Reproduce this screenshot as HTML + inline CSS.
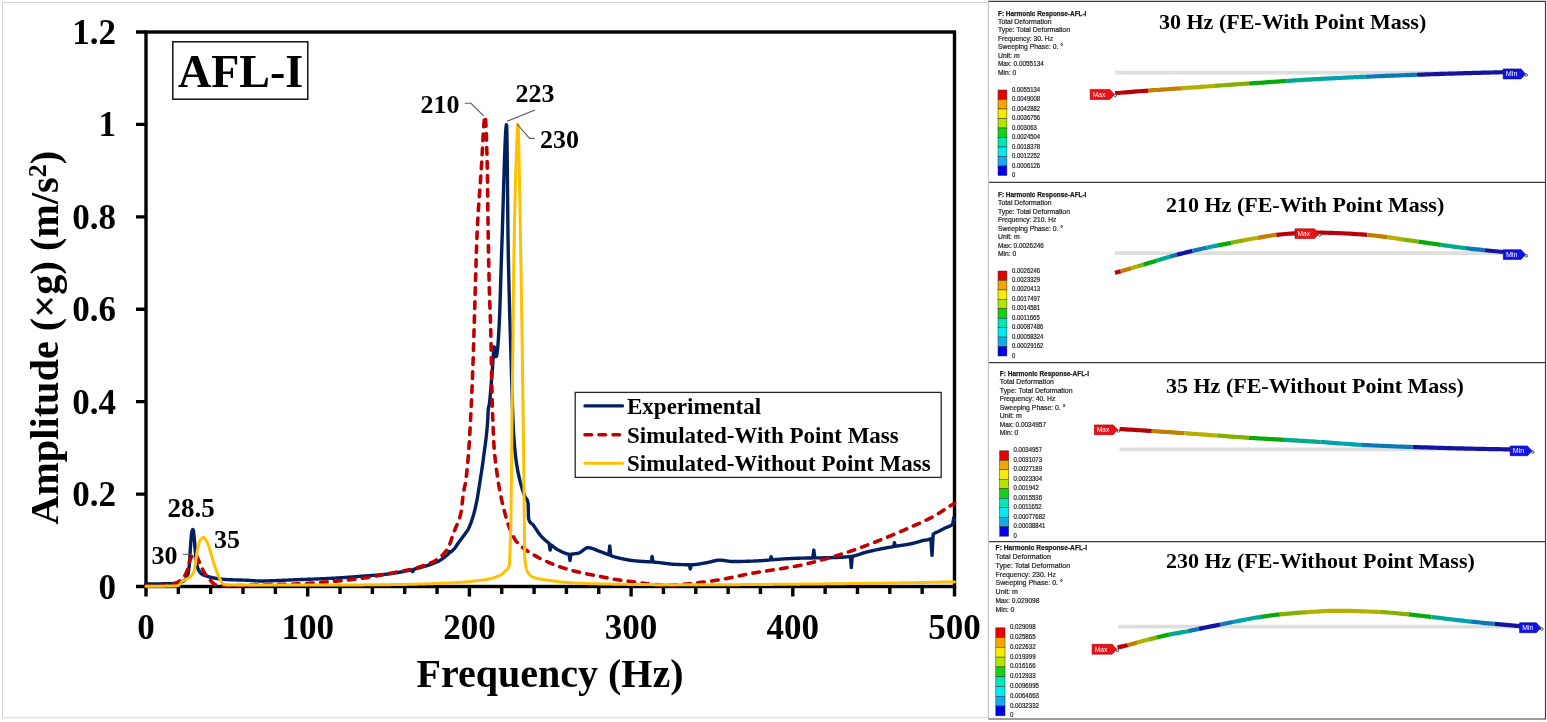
<!DOCTYPE html>
<html><head><meta charset="utf-8"><title>AFL-I harmonic response</title>
<style>
html,body{margin:0;padding:0;background:#fff;}
body{width:1547px;height:722px;overflow:hidden;}
svg{display:block;}
.b{font-family:'Liberation Serif', serif;font-weight:bold;fill:#000;}
.tk{font-family:'Liberation Serif', serif;font-weight:bold;font-size:35px;fill:#000;}
.sm{font-family:'Liberation Sans', sans-serif;font-size:7px;fill:#262626;stroke:#262626;stroke-width:0.22px;}
.sh{font-family:'Liberation Sans', sans-serif;font-size:7px;font-weight:bold;fill:#1a1a1a;stroke:#1a1a1a;stroke-width:0.25px;}
.tg{font-family:'Liberation Sans', sans-serif;font-size:6.6px;fill:#fff;}
</style></head>
<body><svg width="1547" height="722" viewBox="0 0 1547 722">
<rect width="1547" height="722" fill="#fff"/>
<rect x="2.5" y="2.5" width="985.8" height="715.3" fill="none" stroke="#d2d2d2" stroke-width="1"/>
<path d="M988.5 1.5 V719" stroke="#c4c4c4" stroke-width="1"/>
<path d="M988.5 1.4 H1545.5 V719 H988.5" fill="none" stroke="#3c3c3c" stroke-width="1.2"/>
<path d="M989 182.4 H1545.5" stroke="#3c3c3c" stroke-width="1.3"/>
<path d="M989 362.6 H1545.5" stroke="#3c3c3c" stroke-width="1.3"/>
<path d="M989 541.6 H1545.5" stroke="#3c3c3c" stroke-width="1.3"/>
<text x="116" y="598.5" text-anchor="end" class="tk">0</text>
<text x="116" y="506.08" text-anchor="end" class="tk">0.2</text>
<text x="116" y="413.67" text-anchor="end" class="tk">0.4</text>
<text x="116" y="321.25" text-anchor="end" class="tk">0.6</text>
<text x="116" y="228.83" text-anchor="end" class="tk">0.8</text>
<text x="116" y="136.42" text-anchor="end" class="tk">1</text>
<text x="116" y="44" text-anchor="end" class="tk">1.2</text>
<text x="146" y="638.5" text-anchor="middle" class="tk">0</text>
<text x="307.7" y="638.5" text-anchor="middle" class="tk">100</text>
<text x="469.4" y="638.5" text-anchor="middle" class="tk">200</text>
<text x="631.1" y="638.5" text-anchor="middle" class="tk">300</text>
<text x="792.8" y="638.5" text-anchor="middle" class="tk">400</text>
<text x="954.5" y="638.5" text-anchor="middle" class="tk">500</text>
<path d="M136 586.5 H146 M136 494.08 H146 M136 401.67 H146 M136 309.25 H146 M136 216.83 H146 M136 124.42 H146 M136 32 H146 M146 586.5 V596.5 M178.34 586.5 V594 M210.68 586.5 V594 M243.02 586.5 V594 M275.36 586.5 V594 M307.7 586.5 V596.5 M340.04 586.5 V594 M372.38 586.5 V594 M404.72 586.5 V594 M437.06 586.5 V594 M469.4 586.5 V596.5 M501.74 586.5 V594 M534.08 586.5 V594 M566.42 586.5 V594 M598.76 586.5 V594 M631.1 586.5 V596.5 M663.44 586.5 V594 M695.78 586.5 V594 M728.12 586.5 V594 M760.46 586.5 V594 M792.8 586.5 V596.5 M825.14 586.5 V594 M857.48 586.5 V594 M889.82 586.5 V594 M922.16 586.5 V594 M954.5 586.5 V596.5 " stroke="#000" stroke-width="3.4" fill="none"/>
<rect x="146.0" y="32.0" width="808.5" height="554.5" fill="none" stroke="#000" stroke-width="3.4"/>
<text x="550" y="687.3" text-anchor="middle" font-size="40" class="b">Frequency (Hz)</text>
<text transform="translate(58 524.8) rotate(-90)" font-size="40.3" class="b">Amplitude (×g) (m/s<tspan dy="-12" font-size="26">2</tspan><tspan dy="12">)</tspan></text>
<rect x="172.8" y="41.8" width="135" height="57.4" fill="#fff" stroke="#000" stroke-width="1.4"/>
<text x="178" y="87.3" font-size="46" class="b">AFL-I</text>
<path d="M146 583.96 L146.65 583.96 L147.29 583.96 L147.94 583.96 L148.59 583.96 L149.23 583.96 L149.88 583.96 L150.53 583.96 L151.17 583.96 L151.82 583.96 L152.47 583.96 L153.11 583.96 L153.76 583.96 L154.41 583.96 L155.06 583.96 L155.7 583.95 L156.35 583.94 L157 583.93 L157.64 583.92 L158.29 583.91 L158.94 583.89 L159.58 583.88 L160.23 583.86 L160.88 583.85 L161.52 583.83 L162.17 583.82 L162.82 583.81 L163.46 583.8 L164.11 583.78 L164.76 583.77 L165.4 583.76 L166.05 583.75 L166.7 583.73 L167.34 583.72 L167.99 583.7 L168.64 583.69 L169.28 583.67 L169.93 583.65 L170.58 583.62 L171.23 583.59 L171.87 583.56 L172.52 583.52 L173.17 583.47 L173.81 583.42 L174.46 583.37 L175.11 583.3 L175.75 583.23 L176.4 583.16 L177.05 583.08 L177.69 582.99 L178.34 582.88 L178.99 582.75 L179.47 582.63 L179.96 582.5 L180.44 582.36 L180.93 582.19 L181.41 582.02 L181.9 581.82 L182.38 581.61 L182.87 581.38 L183.35 581.13 L183.84 580.86 L184.32 580.52 L184.65 580.24 L184.97 579.92 L185.29 579.55 L185.62 579.14 L185.94 578.67 L186.26 578.15 L186.59 577.58 L186.91 576.94 L187.23 576.24 L187.56 575.44 L187.72 574.91 L187.88 574.28 L188.04 573.56 L188.2 572.75 L188.37 571.85 L188.53 570.87 L188.69 569.8 L188.85 568.66 L189.01 567.45 L189.17 566.17 L189.34 564.57 L189.5 562.5 L189.66 560.09 L189.82 557.45 L189.98 554.72 L190.14 552.02 L190.31 549.48 L190.47 547.22 L190.63 545.07 L190.79 542.83 L190.95 540.58 L191.11 538.42 L191.28 536.43 L191.44 534.71 L191.6 533.35 L191.76 532.44 L191.92 531.79 L192.08 531.18 L192.25 530.64 L192.41 530.16 L192.73 529.46 L193.38 530.15 L193.54 531.22 L193.7 532.58 L193.86 534.17 L194.02 535.9 L194.19 537.7 L194.35 539.5 L194.51 541.22 L194.67 543.08 L194.83 545.25 L195 547.56 L195.16 549.85 L195.32 551.95 L195.48 553.69 L195.64 555.18 L195.8 556.63 L195.97 558.02 L196.13 559.35 L196.29 560.61 L196.45 561.79 L196.61 562.87 L196.77 563.87 L196.94 564.75 L197.1 565.52 L197.26 566.17 L197.42 566.74 L197.58 567.27 L197.74 567.78 L197.91 568.27 L198.07 568.72 L198.39 569.56 L198.71 570.29 L199.04 570.93 L199.36 571.49 L199.68 571.97 L200.01 572.37 L200.33 572.73 L200.65 573.06 L200.98 573.36 L201.46 573.76 L201.95 574.1 L202.43 574.39 L202.92 574.66 L203.4 574.89 L203.89 575.11 L204.37 575.3 L204.86 575.48 L205.34 575.65 L205.83 575.82 L206.31 575.98 L206.8 576.15 L207.28 576.31 L207.77 576.46 L208.25 576.61 L208.74 576.75 L209.22 576.89 L209.71 577.02 L210.19 577.14 L210.68 577.26 L211.33 577.41 L211.97 577.55 L212.62 577.69 L213.27 577.83 L213.91 577.97 L214.56 578.1 L215.21 578.23 L215.85 578.35 L216.5 578.47 L217.15 578.58 L217.79 578.69 L218.44 578.79 L219.09 578.88 L219.74 578.96 L220.38 579.04 L221.03 579.11 L221.68 579.17 L222.32 579.23 L222.97 579.28 L223.62 579.33 L224.26 579.38 L224.91 579.43 L225.56 579.47 L226.2 579.51 L226.85 579.55 L227.5 579.59 L228.14 579.62 L228.79 579.66 L229.44 579.69 L230.08 579.71 L230.73 579.74 L231.38 579.77 L232.02 579.79 L232.67 579.81 L233.32 579.83 L233.96 579.85 L234.61 579.87 L235.26 579.89 L235.91 579.91 L236.55 579.93 L237.2 579.94 L237.85 579.96 L238.49 579.98 L239.14 579.99 L239.79 580.01 L240.43 580.02 L241.08 580.04 L241.73 580.06 L242.37 580.08 L243.02 580.09 L243.67 580.11 L244.31 580.13 L244.96 580.16 L245.61 580.18 L246.25 580.2 L246.9 580.23 L247.55 580.26 L248.19 580.3 L248.84 580.34 L249.49 580.38 L250.13 580.42 L250.78 580.47 L251.43 580.52 L252.08 580.57 L252.72 580.62 L253.37 580.66 L254.02 580.71 L254.66 580.75 L255.31 580.8 L255.96 580.83 L256.6 580.87 L257.25 580.9 L257.9 580.92 L258.54 580.94 L259.19 580.95 L259.84 580.96 L260.48 580.95 L261.13 580.95 L261.78 580.95 L262.42 580.94 L263.07 580.94 L263.72 580.93 L264.36 580.92 L265.01 580.91 L265.66 580.9 L266.3 580.89 L266.95 580.87 L267.6 580.86 L268.25 580.84 L268.89 580.83 L269.54 580.81 L270.19 580.79 L270.83 580.77 L271.48 580.75 L272.13 580.73 L272.77 580.71 L273.42 580.68 L274.07 580.66 L274.71 580.64 L275.36 580.61 L276.01 580.59 L276.65 580.56 L277.3 580.53 L277.95 580.51 L278.59 580.48 L279.24 580.45 L279.89 580.43 L280.53 580.4 L281.18 580.37 L281.83 580.34 L282.47 580.31 L283.12 580.28 L283.77 580.25 L284.42 580.22 L285.06 580.19 L285.71 580.17 L286.36 580.14 L287 580.11 L287.65 580.08 L288.3 580.05 L288.94 580.02 L289.59 579.99 L290.24 579.96 L290.88 579.93 L291.53 579.91 L292.18 579.88 L292.82 579.85 L293.47 579.83 L294.12 579.8 L294.76 579.77 L295.41 579.75 L296.06 579.73 L296.7 579.7 L297.35 579.68 L298 579.65 L298.64 579.63 L299.29 579.61 L299.94 579.59 L300.59 579.56 L301.23 579.54 L301.88 579.52 L302.53 579.49 L303.17 579.47 L303.82 579.45 L304.47 579.43 L305.11 579.4 L305.76 579.38 L306.41 579.36 L307.05 579.33 L307.7 579.31 L308.35 579.29 L308.99 579.27 L309.64 579.24 L310.29 579.22 L310.93 579.2 L311.58 579.17 L312.23 579.15 L312.87 579.13 L313.52 579.1 L314.17 579.08 L314.81 579.05 L315.46 579.03 L316.11 579 L316.76 578.98 L317.4 578.95 L318.05 578.93 L318.7 578.9 L319.34 578.88 L319.99 578.85 L320.64 578.82 L321.28 578.8 L321.93 578.77 L322.58 578.74 L323.22 578.71 L323.87 578.69 L324.52 578.66 L325.16 578.63 L325.81 578.6 L326.46 578.57 L327.1 578.54 L327.75 578.51 L328.4 578.48 L329.04 578.45 L329.69 578.41 L330.34 578.38 L330.98 578.35 L331.63 578.31 L332.28 578.28 L332.93 578.24 L333.57 578.21 L334.22 578.17 L334.87 578.13 L335.51 578.09 L336.16 578.05 L336.81 578.01 L337.45 577.97 L338.1 577.93 L338.75 577.89 L339.39 577.85 L340.04 577.81 L340.69 577.76 L341.33 577.72 L341.98 577.68 L342.63 577.63 L343.27 577.59 L343.92 577.54 L344.57 577.5 L345.21 577.45 L345.86 577.4 L346.51 577.36 L347.15 577.31 L347.8 577.26 L348.45 577.21 L349.1 577.17 L349.74 577.12 L350.39 577.07 L351.04 577.02 L351.68 576.97 L352.33 576.92 L352.98 576.87 L353.62 576.82 L354.27 576.77 L354.92 576.72 L355.56 576.67 L356.21 576.62 L356.86 576.57 L357.5 576.53 L358.15 576.48 L358.8 576.43 L359.44 576.38 L360.09 576.33 L360.74 576.28 L361.38 576.23 L362.03 576.18 L362.68 576.13 L363.32 576.08 L363.97 576.03 L364.62 575.98 L365.27 575.93 L365.91 575.89 L366.56 575.84 L367.21 575.79 L367.85 575.75 L368.5 575.7 L369.15 575.65 L369.79 575.61 L370.44 575.56 L371.09 575.51 L371.73 575.46 L372.38 575.42 L373.03 575.37 L373.67 575.32 L374.32 575.27 L374.97 575.22 L375.61 575.17 L376.26 575.12 L376.91 575.07 L377.55 575.02 L378.2 574.97 L378.85 574.91 L379.49 574.86 L380.14 574.8 L380.79 574.74 L381.44 574.69 L382.08 574.63 L382.73 574.56 L383.38 574.5 L384.02 574.44 L384.67 574.37 L385.32 574.31 L385.96 574.24 L386.61 574.17 L387.26 574.1 L387.9 574.02 L388.55 573.95 L389.2 573.87 L389.84 573.79 L390.49 573.7 L391.14 573.61 L391.78 573.52 L392.43 573.43 L393.08 573.33 L393.72 573.23 L394.37 573.13 L395.02 573.03 L395.66 572.92 L396.31 572.81 L396.96 572.7 L397.61 572.59 L398.25 572.47 L398.9 572.36 L399.55 572.24 L400.19 572.11 L400.84 571.99 L401.49 571.86 L402.13 571.73 L402.78 571.61 L403.43 571.47 L404.07 571.34 L404.72 571.21 L405.37 571.07 L406.01 570.93 L406.66 570.79 L407.31 570.65 L407.95 570.51 L408.6 570.36 L409.25 570.22 L409.89 570.07 L410.54 569.93 L411.19 569.78 L411.67 569.95 L412 570.46 L412.32 570.96 L412.64 571.46 L413.13 571.06 L413.45 570.41 L413.78 569.75 L414.1 569.1 L414.75 568.95 L415.23 568.83 L415.72 568.71 L416.2 568.6 L416.69 568.48 L417.17 568.36 L417.66 568.24 L418.14 568.12 L418.63 568 L419.11 567.87 L419.6 567.75 L420.08 567.62 L420.57 567.49 L421.05 567.37 L421.54 567.24 L422.02 567.1 L422.51 566.97 L422.99 566.83 L423.48 566.7 L423.96 566.56 L424.45 566.42 L424.93 566.27 L425.42 566.13 L425.9 565.98 L426.39 565.83 L426.87 565.68 L427.36 565.53 L427.84 565.37 L428.33 565.21 L428.81 565.05 L429.3 564.88 L429.78 564.72 L430.27 564.55 L430.75 564.37 L431.24 564.2 L431.72 564.02 L432.21 563.84 L432.69 563.65 L433.18 563.47 L433.66 563.28 L434.15 563.08 L434.63 562.88 L435.12 562.68 L435.6 562.48 L436.09 562.27 L436.57 562.06 L437.06 561.84 L437.55 561.62 L438.03 561.4 L438.52 561.15 L439 560.9 L439.49 560.63 L439.97 560.34 L440.46 560.04 L440.94 559.74 L441.43 559.41 L441.91 559.08 L442.4 558.74 L442.88 558.39 L443.37 558.03 L443.85 557.67 L444.34 557.29 L444.82 556.92 L445.31 556.53 L445.79 556.14 L446.28 555.75 L446.76 555.36 L447.25 554.96 L447.73 554.56 L448.22 554.16 L448.54 553.59 L448.7 553.14 L448.86 552.7 L449.03 552.26 L449.19 551.82 L449.35 551.38 L449.67 551.73 L450 552.08 L450.32 552.43 L450.8 552.03 L451.29 551.61 L451.61 551.33 L451.94 551.04 L452.26 550.74 L452.58 550.44 L452.91 550.13 L453.23 549.81 L453.55 549.48 L453.88 549.14 L454.2 548.79 L454.52 548.42 L454.85 548.03 L455.17 547.61 L455.49 547.17 L455.82 546.71 L456.14 546.24 L456.46 545.75 L456.79 545.26 L457.11 544.77 L457.43 544.27 L457.76 543.78 L458.08 543.3 L458.4 542.83 L458.73 542.37 L459.05 541.93 L459.37 541.49 L459.7 541.06 L460.02 540.63 L460.34 540.2 L460.67 539.78 L460.99 539.35 L461.31 538.93 L461.64 538.51 L461.96 538.08 L462.29 537.65 L462.61 537.22 L462.93 536.79 L463.26 536.34 L463.58 535.9 L463.9 535.45 L464.23 535 L464.55 534.57 L464.87 534.13 L465.2 533.7 L465.52 533.27 L465.84 532.83 L466.17 532.38 L466.49 531.92 L466.81 531.45 L467.14 530.96 L467.46 530.44 L467.78 529.9 L468.11 529.34 L468.43 528.74 L468.75 528.1 L469.08 527.43 L469.4 526.71 L469.72 525.95 L470.05 525.16 L470.37 524.34 L470.69 523.48 L470.86 523.04 L471.02 522.59 L471.18 522.14 L471.34 521.68 L471.5 521.21 L471.66 520.73 L471.83 520.25 L471.99 519.77 L472.15 519.27 L472.31 518.77 L472.47 518.27 L472.63 517.76 L472.8 517.24 L472.96 516.73 L473.12 516.2 L473.28 515.66 L473.44 515.11 L473.6 514.54 L473.77 513.97 L473.93 513.38 L474.09 512.78 L474.25 512.17 L474.41 511.55 L474.57 510.92 L474.74 510.27 L474.9 509.62 L475.06 508.95 L475.22 508.27 L475.38 507.57 L475.54 506.87 L475.71 506.15 L475.87 505.43 L476.03 504.69 L476.19 503.94 L476.35 503.17 L476.51 502.4 L476.68 501.61 L476.84 500.78 L477 499.93 L477.16 499.06 L477.32 498.16 L477.49 497.25 L477.65 496.31 L477.81 495.35 L477.97 494.38 L478.13 493.39 L478.29 492.4 L478.46 491.38 L478.62 490.36 L478.78 489.34 L478.94 488.3 L479.1 487.27 L479.26 486.22 L479.43 485.18 L479.59 484.14 L479.75 483.1 L479.91 482.07 L480.07 481.04 L480.23 480 L480.4 478.97 L480.56 477.93 L480.72 476.89 L480.88 475.85 L481.04 474.8 L481.2 473.74 L481.37 472.68 L481.53 471.61 L481.69 470.54 L481.85 469.46 L482.01 468.37 L482.17 467.27 L482.34 466.16 L482.5 465.03 L482.66 463.9 L482.82 462.76 L482.98 461.6 L483.14 460.43 L483.31 459.24 L483.47 458.04 L483.63 456.83 L483.79 455.59 L483.95 454.34 L484.11 453.1 L484.28 451.88 L484.44 450.68 L484.6 449.48 L484.76 448.3 L484.92 447.11 L485.08 445.92 L485.25 444.71 L485.41 443.49 L485.57 442.24 L485.73 440.96 L485.89 439.65 L486.06 438.29 L486.22 436.88 L486.38 435.42 L486.54 433.9 L486.7 432.32 L486.86 430.66 L487.03 428.92 L487.19 427.1 L487.35 425.19 L487.51 423.18 L487.67 421.07 L487.83 418.09 L488 414.24 L488.16 410.69 L488.32 408.6 L488.48 407.83 L488.64 407.35 L488.8 406.9 L488.97 406.29 L489.13 405.42 L489.29 404.38 L489.45 403.19 L489.61 401.86 L489.77 400.39 L489.94 398.81 L490.1 397.13 L490.26 395.35 L490.42 393.5 L490.58 391.58 L490.74 389.61 L490.91 387.6 L491.07 385.56 L491.23 383.51 L491.39 381.46 L491.55 379.42 L491.71 377.4 L491.88 375.42 L492.04 373.5 L492.2 371.63 L492.36 369.65 L492.52 367.42 L492.68 365.01 L492.85 362.49 L493.01 359.94 L493.17 357.41 L493.33 354.99 L493.49 352.75 L493.65 350.75 L493.82 349.08 L493.98 347.79 L494.14 346.97 L494.63 347.43 L494.79 348.27 L494.95 349.31 L495.11 350.5 L495.27 351.76 L495.43 353.02 L495.6 354.21 L495.76 355.26 L495.92 356.09 L496.08 356.64 L496.57 356.15 L496.73 355.37 L496.89 354.39 L497.05 353.26 L497.21 352.06 L497.37 350.84 L497.54 349.5 L497.7 347.91 L497.86 346.09 L498.02 344.06 L498.18 341.83 L498.34 339.43 L498.51 336.88 L498.67 334.18 L498.83 331.36 L498.99 328.43 L499.15 325.42 L499.31 322.15 L499.48 318.46 L499.64 314.4 L499.8 310.01 L499.96 305.34 L500.12 300.45 L500.28 295.37 L500.45 290.15 L500.61 284.85 L500.77 279.5 L500.93 274.16 L501.09 268.87 L501.25 263.68 L501.42 258.64 L501.58 253.79 L501.74 249.18 L501.9 244.59 L502.06 239.8 L502.23 234.82 L502.39 229.68 L502.55 224.41 L502.71 219.03 L502.87 213.57 L503.03 208.05 L503.2 202.51 L503.36 196.96 L503.52 191.43 L503.68 185.94 L503.84 180.53 L504 175.22 L504.17 170.03 L504.33 164.99 L504.49 160.12 L504.65 155.45 L504.81 151.01 L504.97 146.82 L505.14 142.91 L505.3 139.3 L505.46 136.02 L505.62 133.1 L505.78 130.55 L505.94 128.41 L506.11 126.7 L506.27 125.45 L506.43 124.68 L506.75 127.14 L506.91 134.65 L507.08 145.96 L507.24 160.1 L507.4 176.08 L507.56 192.91 L507.72 209.62 L507.88 225.23 L508.05 238.74 L508.21 249.18 L508.37 257.54 L508.53 265.47 L508.69 273.03 L508.85 280.22 L509.02 287.09 L509.18 293.67 L509.34 299.98 L509.5 306.06 L509.66 311.94 L509.82 317.65 L509.99 323.22 L510.15 328.69 L510.31 334.07 L510.47 339.41 L510.63 344.73 L510.8 350.07 L510.96 355.46 L511.12 360.93 L511.28 366.49 L511.44 372.1 L511.6 377.71 L511.77 383.3 L511.93 388.82 L512.09 394.24 L512.25 399.52 L512.41 404.62 L512.57 409.5 L512.74 414.13 L512.9 418.47 L513.06 422.48 L513.22 426.13 L513.38 429.37 L513.54 432.16 L513.71 434.67 L513.87 437.05 L514.03 439.32 L514.19 441.48 L514.35 443.53 L514.51 445.48 L514.68 447.34 L514.84 449.11 L515 450.79 L515.16 452.39 L515.32 453.91 L515.48 455.36 L515.65 456.75 L515.81 458.08 L515.97 459.35 L516.13 460.57 L516.29 461.74 L516.45 462.87 L516.62 463.96 L516.78 465.02 L516.94 466.04 L517.1 467.03 L517.26 467.99 L517.42 468.91 L517.59 469.81 L517.75 470.68 L517.91 471.53 L518.07 472.35 L518.23 473.15 L518.4 473.92 L518.56 474.68 L518.72 475.42 L518.88 476.14 L519.04 476.85 L519.2 477.55 L519.37 478.23 L519.53 478.9 L519.69 479.57 L519.85 480.22 L520.01 480.87 L520.17 481.51 L520.34 482.13 L520.5 482.75 L520.66 483.36 L520.82 483.96 L520.98 484.56 L521.14 485.14 L521.31 485.71 L521.47 486.28 L521.63 486.84 L521.79 487.39 L521.95 487.93 L522.11 488.46 L522.28 488.98 L522.44 489.5 L522.6 490.01 L522.76 490.51 L522.92 491.01 L523.08 491.49 L523.25 491.97 L523.41 492.44 L523.57 492.91 L523.73 493.37 L523.89 493.82 L524.05 494.26 L524.22 494.7 L524.54 495.56 L524.86 496.39 L525.19 497.1 L525.51 497.64 L525.83 498.06 L526.16 498.43 L526.48 498.82 L526.8 499.29 L527.13 499.92 L527.45 500.75 L527.61 501.27 L527.77 501.87 L527.94 502.55 L528.1 503.32 L528.26 507.52 L528.42 514.55 L528.58 518.57 L528.74 519.12 L528.91 519.62 L529.07 520.08 L529.39 520.87 L529.71 521.52 L530.04 522.06 L530.36 522.49 L530.68 522.84 L531.01 523.12 L531.49 523.48 L531.98 523.8 L532.46 524.17 L532.79 524.47 L533.11 524.83 L533.43 525.27 L533.76 525.73 L534.08 526.19 L534.4 526.66 L534.73 527.14 L535.05 527.62 L535.37 528.1 L535.7 528.59 L536.02 529.07 L536.34 529.56 L536.67 530.05 L536.99 530.53 L537.31 531.02 L537.64 531.5 L537.96 531.97 L538.28 532.44 L538.61 532.9 L538.93 533.35 L539.25 533.8 L539.58 534.24 L539.9 534.66 L540.22 535.07 L540.55 535.48 L540.87 535.86 L541.19 536.24 L541.52 536.6 L541.84 536.94 L542.16 537.28 L542.49 537.61 L542.81 537.93 L543.14 538.25 L543.46 538.56 L543.78 538.87 L544.11 539.17 L544.43 539.47 L544.75 539.76 L545.08 540.04 L545.4 540.32 L545.72 540.6 L546.21 541.01 L546.69 541.41 L547.18 541.81 L547.66 542.2 L548.15 542.58 L548.63 542.97 L549.12 543.35 L549.28 544.48 L549.44 545.61 L549.6 546.74 L549.76 547.87 L549.93 548.99 L550.09 550.12 L550.25 549.25 L550.41 548.38 L550.57 547.51 L550.74 546.63 L550.9 545.76 L551.06 544.89 L551.54 545.28 L552.03 545.67 L552.51 546.05 L553 546.44 L553.48 546.81 L553.97 547.18 L554.45 547.55 L554.94 547.9 L555.42 548.25 L555.91 548.58 L556.39 548.89 L556.88 549.2 L557.36 549.48 L557.85 549.75 L558.34 550 L558.82 550.23 L559.31 550.48 L559.79 550.72 L560.28 550.97 L560.76 551.21 L561.25 551.45 L561.73 551.7 L562.22 551.93 L562.7 552.16 L563.19 552.39 L563.67 552.6 L564.16 552.81 L564.64 553.01 L565.13 553.19 L565.61 553.37 L566.1 553.53 L566.58 553.67 L567.07 553.8 L567.71 553.94 L568.36 554.05 L569.01 554.12 L569.17 555.21 L569.33 556.3 L569.49 557.38 L569.65 558.47 L569.82 559.55 L569.98 560.62 L570.14 559.54 L570.3 558.46 L570.46 557.38 L570.62 556.3 L570.79 555.22 L570.95 554.13 L571.59 554.1 L572.24 554.05 L572.89 554 L573.53 553.93 L574.18 553.85 L574.83 553.76 L575.48 553.67 L576.12 553.57 L576.77 553.46 L577.42 553.35 L578.06 553.23 L578.55 553.11 L579.03 552.94 L579.52 552.72 L580 552.46 L580.49 552.16 L580.97 551.83 L581.46 551.48 L581.94 551.11 L582.43 550.74 L582.91 550.36 L583.4 549.98 L583.88 549.61 L584.37 549.25 L584.85 548.91 L585.34 548.61 L585.82 548.33 L586.31 548.1 L586.79 547.91 L587.28 547.78 L587.93 547.69 L588.57 547.7 L589.22 547.75 L589.87 547.84 L590.51 547.96 L591.16 548.12 L591.65 548.26 L592.13 548.4 L592.62 548.57 L593.1 548.74 L593.59 548.92 L594.07 549.11 L594.56 549.3 L595.04 549.5 L595.53 549.71 L596.01 549.91 L596.5 550.12 L596.98 550.32 L597.47 550.52 L597.95 550.72 L598.44 550.91 L598.92 551.1 L599.41 551.27 L599.89 551.44 L600.38 551.6 L600.86 551.77 L601.35 551.95 L601.83 552.13 L602.32 552.31 L602.8 552.49 L603.29 552.68 L603.77 552.86 L604.26 553.05 L604.74 553.24 L605.23 553.44 L605.71 553.63 L606.2 553.82 L606.68 554.02 L607.17 554.21 L607.65 554.4 L608.14 554.59 L608.62 554.78 L608.95 553.37 L609.11 551.89 L609.27 550.41 L609.43 548.93 L609.59 547.46 L609.76 545.98 L609.92 547.58 L610.08 549.18 L610.24 550.78 L610.4 552.38 L610.56 553.98 L610.73 555.58 L611.21 555.76 L611.7 555.94 L612.18 556.11 L612.67 556.27 L613.15 556.44 L613.64 556.6 L614.12 556.75 L614.61 556.9 L615.09 557.04 L615.58 557.18 L616.06 557.31 L616.55 557.43 L617.03 557.55 L617.52 557.67 L618 557.79 L618.49 557.91 L618.97 558.03 L619.46 558.14 L620.1 558.3 L620.75 558.45 L621.4 558.59 L622.04 558.74 L622.69 558.88 L623.34 559.02 L623.99 559.15 L624.63 559.29 L625.28 559.41 L625.93 559.54 L626.57 559.66 L627.22 559.78 L627.87 559.89 L628.51 560 L629.16 560.1 L629.81 560.2 L630.45 560.29 L631.1 560.38 L631.75 560.47 L632.39 560.55 L633.04 560.62 L633.69 560.69 L634.33 560.76 L634.98 560.83 L635.63 560.89 L636.27 560.95 L636.92 561 L637.57 561.06 L638.21 561.11 L638.86 561.16 L639.51 561.21 L640.16 561.26 L640.8 561.31 L641.45 561.35 L642.1 561.39 L642.74 561.44 L643.39 561.48 L644.04 561.52 L644.68 561.56 L645.33 561.6 L645.98 561.64 L646.62 561.68 L647.27 561.72 L647.92 561.76 L648.56 561.8 L649.21 561.84 L649.86 561.88 L650.5 561.92 L651.15 561.96 L651.31 561.04 L651.47 560.13 L651.64 559.22 L651.8 558.3 L651.96 557.39 L652.12 556.48 L652.28 557.41 L652.44 558.35 L652.61 559.28 L652.77 560.22 L652.93 561.15 L653.09 562.09 L653.74 562.13 L654.38 562.18 L655.03 562.23 L655.68 562.28 L656.33 562.33 L656.97 562.39 L657.62 562.44 L658.27 562.5 L658.91 562.57 L659.56 562.63 L660.21 562.71 L660.85 562.78 L661.5 562.86 L662.15 562.95 L662.79 563.03 L663.44 563.12 L664.09 563.21 L664.73 563.29 L665.38 563.38 L666.03 563.47 L666.67 563.56 L667.32 563.64 L667.97 563.72 L668.61 563.8 L669.26 563.88 L669.91 563.95 L670.55 564.02 L671.2 564.09 L671.85 564.15 L672.5 564.2 L673.14 564.25 L673.79 564.29 L674.44 564.32 L675.08 564.35 L675.73 564.38 L676.38 564.4 L677.02 564.43 L677.67 564.46 L678.32 564.49 L678.96 564.51 L679.61 564.54 L680.26 564.56 L680.9 564.58 L681.55 564.6 L682.2 564.63 L682.84 564.65 L683.49 564.67 L684.14 564.68 L684.78 564.7 L685.43 564.71 L686.08 564.73 L686.72 564.74 L687.37 564.75 L688.02 564.76 L688.67 564.77 L689.31 564.77 L689.47 565.47 L689.64 566.16 L689.8 566.86 L689.96 567.55 L690.12 568.25 L690.28 568.94 L690.44 568.25 L690.61 567.55 L690.77 566.86 L690.93 566.17 L691.09 565.48 L691.25 564.78 L691.9 564.77 L692.55 564.75 L693.19 564.72 L693.84 564.68 L694.49 564.62 L695.13 564.56 L695.78 564.49 L696.43 564.41 L697.07 564.33 L697.72 564.24 L698.37 564.14 L699.01 564.04 L699.66 563.93 L700.31 563.82 L700.95 563.7 L701.6 563.59 L702.25 563.47 L702.89 563.35 L703.54 563.23 L704.19 563.11 L704.84 562.99 L705.48 562.87 L706.13 562.75 L706.78 562.64 L707.42 562.53 L708.07 562.42 L708.72 562.29 L709.36 562.15 L710.01 562 L710.49 561.88 L710.98 561.76 L711.46 561.63 L711.95 561.5 L712.44 561.37 L712.92 561.24 L713.41 561.12 L713.89 560.99 L714.38 560.87 L715.02 560.72 L715.67 560.58 L716.32 560.46 L716.96 560.35 L717.61 560.27 L718.26 560.21 L718.9 560.17 L719.55 560.16 L720.2 560.17 L720.84 560.2 L721.49 560.25 L722.14 560.3 L722.78 560.37 L723.43 560.44 L724.08 560.53 L724.72 560.62 L725.37 560.71 L726.02 560.81 L726.66 560.9 L727.31 561 L727.96 561.09 L728.61 561.18 L729.25 561.26 L729.9 561.34 L730.55 561.41 L731.19 561.46 L731.84 561.51 L732.49 561.53 L733.13 561.55 L733.78 561.55 L734.43 561.55 L735.07 561.54 L735.72 561.54 L736.37 561.53 L737.01 561.52 L737.66 561.52 L738.31 561.51 L738.95 561.5 L739.6 561.48 L740.25 561.47 L740.89 561.46 L741.54 561.44 L742.19 561.43 L742.83 561.41 L743.48 561.39 L744.13 561.38 L744.78 561.36 L745.42 561.34 L746.07 561.32 L746.72 561.3 L747.36 561.28 L748.01 561.26 L748.66 561.24 L749.3 561.22 L749.95 561.19 L750.6 561.17 L751.24 561.15 L751.89 561.13 L752.54 561.11 L753.18 561.09 L753.83 561.06 L754.48 561.04 L755.12 561.01 L755.77 560.98 L756.42 560.95 L757.06 560.92 L757.71 560.88 L758.36 560.85 L759 560.81 L759.65 560.77 L760.3 560.73 L760.95 560.69 L761.59 560.64 L762.24 560.6 L762.89 560.55 L763.53 560.51 L764.18 560.46 L764.83 560.41 L765.47 560.36 L766.12 560.31 L766.77 560.26 L767.41 560.21 L768.06 560.15 L768.71 560.1 L769.35 560.05 L770 560 L770.32 559.43 L770.49 558.88 L770.65 558.33 L770.81 557.77 L770.97 557.22 L771.13 556.67 L771.29 557.19 L771.46 557.72 L771.62 558.24 L771.78 558.77 L771.94 559.3 L772.1 559.82 L772.75 559.77 L773.4 559.71 L774.04 559.66 L774.69 559.61 L775.34 559.55 L775.98 559.5 L776.63 559.45 L777.28 559.4 L777.92 559.35 L778.57 559.3 L779.22 559.25 L779.86 559.2 L780.51 559.15 L781.16 559.11 L781.8 559.06 L782.45 559.02 L783.1 558.98 L783.74 558.93 L784.39 558.89 L785.04 558.86 L785.69 558.82 L786.33 558.78 L786.98 558.75 L787.63 558.72 L788.27 558.68 L788.92 558.65 L789.57 558.61 L790.21 558.58 L790.86 558.55 L791.51 558.52 L792.15 558.48 L792.8 558.45 L793.45 558.42 L794.09 558.39 L794.74 558.36 L795.39 558.34 L796.03 558.31 L796.68 558.28 L797.33 558.26 L797.97 558.24 L798.62 558.22 L799.27 558.2 L799.91 558.18 L800.56 558.16 L801.21 558.15 L801.86 558.13 L802.5 558.12 L803.15 558.1 L803.8 558.09 L804.44 558.08 L805.09 558.06 L805.74 558.05 L806.38 558.04 L807.03 558.03 L807.68 558.02 L808.32 558.01 L808.97 558 L809.62 557.99 L810.26 557.98 L810.91 557.98 L811.56 557.97 L812.2 557.96 L812.85 557.95 L813.01 556.64 L813.17 555.33 L813.34 554.02 L813.5 552.71 L813.66 551.4 L813.82 550.08 L813.98 551.39 L814.14 552.7 L814.31 554.01 L814.47 555.31 L814.63 556.62 L814.79 557.93 L815.44 557.92 L816.08 557.91 L816.73 557.91 L817.38 557.9 L818.03 557.89 L818.67 557.88 L819.32 557.88 L819.97 557.87 L820.61 557.86 L821.26 557.85 L821.91 557.84 L822.55 557.83 L823.2 557.82 L823.85 557.81 L824.49 557.81 L825.14 557.79 L825.79 557.78 L826.43 557.77 L827.08 557.76 L827.73 557.75 L828.37 557.74 L829.02 557.72 L829.67 557.71 L830.31 557.69 L830.96 557.68 L831.61 557.66 L832.25 557.65 L832.9 557.63 L833.55 557.61 L834.2 557.59 L834.84 557.57 L835.49 557.55 L836.14 557.52 L836.78 557.5 L837.43 557.47 L838.08 557.44 L838.72 557.41 L839.37 557.38 L840.02 557.34 L840.66 557.31 L841.31 557.27 L841.96 557.23 L842.6 557.19 L843.25 557.14 L843.9 557.1 L844.54 557.05 L845.19 557 L845.84 556.95 L846.48 556.9 L847.13 556.84 L847.78 556.78 L848.42 556.72 L849.07 556.66 L849.72 556.6 L850.37 556.53 L850.53 558.36 L850.69 560.2 L850.85 562.03 L851.01 563.86 L851.17 565.69 L851.34 567.52 L851.5 565.65 L851.66 563.78 L851.82 561.91 L851.98 560.03 L852.14 558.16 L852.31 556.29 L852.95 556.17 L853.6 556.04 L854.25 555.89 L854.73 555.77 L855.22 555.64 L855.7 555.5 L856.19 555.36 L856.67 555.22 L857.16 555.07 L857.64 554.91 L858.13 554.76 L858.61 554.6 L859.1 554.43 L859.58 554.27 L860.07 554.1 L860.55 553.94 L861.04 553.77 L861.52 553.6 L862.01 553.44 L862.49 553.28 L862.98 553.12 L863.46 552.96 L863.95 552.81 L864.43 552.66 L864.92 552.51 L865.4 552.37 L865.89 552.24 L866.37 552.12 L866.86 551.99 L867.34 551.88 L867.83 551.76 L868.31 551.64 L868.8 551.53 L869.45 551.37 L870.09 551.22 L870.74 551.07 L871.39 550.93 L872.03 550.78 L872.68 550.64 L873.33 550.49 L873.97 550.35 L874.62 550.21 L875.27 550.07 L875.91 549.94 L876.56 549.8 L877.21 549.67 L877.85 549.53 L878.5 549.4 L879.15 549.27 L879.79 549.14 L880.44 549.01 L881.09 548.88 L881.74 548.75 L882.38 548.62 L883.03 548.5 L883.68 548.38 L884.32 548.25 L884.97 548.13 L885.62 548.01 L886.26 547.89 L886.91 547.77 L887.56 547.65 L888.2 547.54 L888.85 547.42 L889.5 547.3 L890.14 547.19 L890.79 547.07 L891.44 546.96 L892.08 546.85 L892.73 546.73 L893.38 546.62 L893.7 545.95 L893.86 545.31 L894.02 544.66 L894.19 544.02 L894.35 543.38 L894.51 542.73 L894.67 543.32 L894.83 543.91 L894.99 544.5 L895.16 545.09 L895.32 545.68 L895.48 546.27 L896.13 546.16 L896.77 546.06 L897.42 545.96 L898.07 545.86 L898.71 545.77 L899.36 545.67 L900.01 545.58 L900.65 545.48 L901.3 545.39 L901.95 545.29 L902.59 545.2 L903.24 545.1 L903.89 545.01 L904.53 544.91 L905.18 544.81 L905.83 544.71 L906.48 544.6 L907.12 544.49 L907.77 544.38 L908.42 544.27 L909.06 544.15 L909.71 544.03 L910.36 543.9 L911 543.77 L911.65 543.63 L912.3 543.48 L912.78 543.36 L913.27 543.24 L913.75 543.12 L914.24 542.99 L914.72 542.86 L915.21 542.73 L915.69 542.59 L916.18 542.45 L916.66 542.31 L917.15 542.17 L917.63 542.03 L918.12 541.89 L918.6 541.75 L919.09 541.61 L919.57 541.47 L920.06 541.33 L920.54 541.19 L921.03 541.06 L921.51 540.93 L922 540.8 L922.48 540.67 L923.13 540.53 L923.78 540.4 L924.42 540.29 L925.07 540.19 L925.72 540.09 L926.36 539.98 L927.01 539.86 L927.66 539.73 L928.3 539.58 L928.79 539.44 L929.27 539.29 L929.76 539.11 L930.25 538.92 L930.73 538.69 L931.05 541.17 L931.22 543.72 L931.38 546.22 L931.54 548.62 L931.7 550.93 L931.86 553.19 L932.02 555.4 L932.19 552.3 L932.35 549.2 L932.51 546.12 L932.67 543.06 L932.83 540.06 L932.99 537.13 L933.16 534.28 L933.48 534 L933.96 533.62 L934.45 533.29 L934.93 533.02 L935.42 532.78 L935.9 532.56 L936.39 532.36 L936.87 532.17 L937.36 531.97 L937.84 531.75 L938.33 531.51 L938.82 531.25 L939.3 530.99 L939.79 530.73 L940.27 530.47 L940.76 530.2 L941.24 529.94 L941.73 529.68 L942.21 529.42 L942.7 529.17 L943.18 528.92 L943.67 528.67 L944.15 528.43 L944.64 528.2 L945.12 527.98 L945.61 527.77 L946.09 527.57 L946.58 527.38 L947.06 527.18 L947.55 526.99 L948.03 526.8 L948.52 526.6 L949 526.39 L949.49 526.17 L949.97 525.93 L950.46 525.68 L950.94 525.41 L951.43 525.11 L951.91 524.79 L952.4 524.44 L952.88 523.14 L953.04 522.09 L953.21 521.04 L953.37 519.98 L953.53 518.93 L953.69 517.87 L953.85 518.66 L954.01 519.45 L954.18 520.24 L954.34 521.02 L954.5 521.81" fill="none" stroke="#002060" stroke-width="3.4" stroke-linejoin="round" stroke-linecap="round"/>
<path d="M146 586.13 L146.65 586.13 L147.29 586.13 L147.94 586.12 L148.59 586.11 L149.23 586.1 L149.88 586.09 L150.53 586.08 L151.17 586.06 L151.82 586.04 L152.47 586.02 L153.11 586 L153.76 585.98 L154.41 585.95 L155.06 585.93 L155.7 585.9 L156.35 585.87 L157 585.84 L157.64 585.81 L158.29 585.78 L158.94 585.75 L159.58 585.72 L160.23 585.68 L160.88 585.65 L161.52 585.61 L162.17 585.58 L162.82 585.54 L163.46 585.49 L164.11 585.44 L164.76 585.38 L165.4 585.32 L166.05 585.25 L166.7 585.17 L167.34 585.09 L167.99 585 L168.64 584.91 L169.28 584.81 L169.93 584.71 L170.58 584.59 L171.23 584.46 L171.87 584.32 L172.36 584.19 L172.84 584.06 L173.33 583.91 L173.81 583.76 L174.3 583.6 L174.78 583.42 L175.27 583.24 L175.75 583.05 L176.24 582.85 L176.72 582.64 L177.21 582.42 L177.69 582.19 L178.18 581.93 L178.66 581.66 L179.15 581.36 L179.63 581.03 L180.12 580.68 L180.6 580.31 L181.09 579.9 L181.41 579.62 L181.74 579.32 L182.06 579.01 L182.38 578.69 L182.71 578.35 L183.03 578 L183.35 577.64 L183.68 577.26 L184 576.85 L184.32 576.4 L184.65 575.91 L184.97 575.37 L185.29 574.78 L185.62 574.15 L185.94 573.48 L186.26 572.75 L186.59 571.99 L186.91 571.17 L187.23 570.31 L187.4 569.87 L187.56 569.36 L187.72 568.76 L187.88 568.08 L188.04 567.35 L188.2 566.59 L188.37 565.82 L188.53 565.05 L188.69 564.31 L188.85 563.62 L189.01 563 L189.17 562.47 L189.34 562 L189.5 561.53 L189.66 561.07 L189.82 560.63 L190.14 559.78 L190.47 558.98 L190.79 558.24 L191.11 557.56 L191.44 556.96 L191.76 556.44 L192.08 556 L192.41 555.61 L192.73 555.22 L193.05 554.85 L193.38 554.51 L193.7 554.21 L194.19 553.87 L194.67 553.7 L195.32 553.93 L195.64 554.32 L195.97 554.84 L196.29 555.45 L196.61 556.1 L196.94 556.76 L197.26 557.39 L197.58 558.02 L197.91 558.73 L198.23 559.49 L198.55 560.28 L198.88 561.09 L199.2 561.89 L199.52 562.66 L199.85 563.4 L200.17 564.1 L200.49 564.82 L200.82 565.53 L201.14 566.25 L201.46 566.96 L201.79 567.67 L202.11 568.36 L202.43 569.05 L202.76 569.72 L203.08 570.38 L203.4 571.01 L203.73 571.63 L204.05 572.21 L204.37 572.78 L204.7 573.31 L205.02 573.81 L205.34 574.29 L205.67 574.75 L205.99 575.2 L206.31 575.64 L206.64 576.06 L206.96 576.47 L207.28 576.87 L207.61 577.26 L207.93 577.64 L208.25 578.01 L208.58 578.38 L208.9 578.74 L209.22 579.09 L209.55 579.45 L209.87 579.8 L210.19 580.15 L210.52 580.5 L210.84 580.86 L211.17 581.2 L211.49 581.55 L211.81 581.88 L212.14 582.21 L212.46 582.52 L212.78 582.82 L213.11 583.1 L213.59 583.49 L214.08 583.84 L214.56 584.2 L215.05 584.55 L215.53 584.89 L216.02 585.19 L216.5 585.41 L216.99 585.55 L217.63 585.58 L218.28 585.58 L218.93 585.58 L219.57 585.58 L220.22 585.58 L220.87 585.58 L221.51 585.58 L222.16 585.58 L222.81 585.58 L223.45 585.58 L224.1 585.58 L224.75 585.58 L225.39 585.58 L226.04 585.58 L226.69 585.58 L227.34 585.58 L227.98 585.58 L228.63 585.58 L229.28 585.58 L229.92 585.58 L230.57 585.58 L231.22 585.58 L231.86 585.58 L232.51 585.58 L233.16 585.58 L233.8 585.58 L234.45 585.58 L235.1 585.58 L235.74 585.57 L236.39 585.57 L237.04 585.57 L237.68 585.56 L238.33 585.55 L238.98 585.54 L239.62 585.53 L240.27 585.51 L240.92 585.5 L241.56 585.48 L242.21 585.46 L242.86 585.44 L243.51 585.42 L244.15 585.4 L244.8 585.38 L245.45 585.35 L246.09 585.33 L246.74 585.3 L247.39 585.28 L248.03 585.25 L248.68 585.23 L249.33 585.2 L249.97 585.17 L250.62 585.14 L251.27 585.11 L251.91 585.09 L252.56 585.06 L253.21 585.03 L253.85 585 L254.5 584.97 L255.15 584.94 L255.79 584.92 L256.44 584.89 L257.09 584.86 L257.73 584.84 L258.38 584.81 L259.03 584.79 L259.68 584.76 L260.32 584.74 L260.97 584.72 L261.62 584.7 L262.26 584.68 L262.91 584.66 L263.56 584.64 L264.2 584.63 L264.85 584.61 L265.5 584.59 L266.14 584.58 L266.79 584.56 L267.44 584.55 L268.08 584.53 L268.73 584.52 L269.38 584.51 L270.02 584.49 L270.67 584.48 L271.32 584.47 L271.96 584.46 L272.61 584.44 L273.26 584.43 L273.9 584.42 L274.55 584.41 L275.2 584.39 L275.85 584.38 L276.49 584.37 L277.14 584.36 L277.79 584.35 L278.43 584.34 L279.08 584.32 L279.73 584.31 L280.37 584.3 L281.02 584.29 L281.67 584.28 L282.31 584.26 L282.96 584.25 L283.61 584.24 L284.25 584.22 L284.9 584.21 L285.55 584.2 L286.19 584.18 L286.84 584.17 L287.49 584.16 L288.13 584.14 L288.78 584.13 L289.43 584.11 L290.07 584.09 L290.72 584.08 L291.37 584.06 L292.02 584.04 L292.66 584.03 L293.31 584.01 L293.96 583.99 L294.6 583.97 L295.25 583.95 L295.9 583.93 L296.54 583.91 L297.19 583.88 L297.84 583.86 L298.48 583.84 L299.13 583.81 L299.78 583.78 L300.42 583.75 L301.07 583.72 L301.72 583.69 L302.36 583.66 L303.01 583.63 L303.66 583.59 L304.3 583.56 L304.95 583.52 L305.6 583.49 L306.24 583.45 L306.89 583.41 L307.54 583.37 L308.19 583.33 L308.83 583.29 L309.48 583.25 L310.13 583.2 L310.77 583.16 L311.42 583.12 L312.07 583.07 L312.71 583.03 L313.36 582.98 L314.01 582.93 L314.65 582.89 L315.3 582.84 L315.95 582.79 L316.59 582.74 L317.24 582.69 L317.89 582.64 L318.53 582.59 L319.18 582.54 L319.83 582.49 L320.47 582.44 L321.12 582.39 L321.77 582.34 L322.41 582.29 L323.06 582.23 L323.71 582.18 L324.36 582.13 L325 582.08 L325.65 582.02 L326.3 581.97 L326.94 581.92 L327.59 581.87 L328.24 581.81 L328.88 581.76 L329.53 581.71 L330.18 581.65 L330.82 581.6 L331.47 581.55 L332.12 581.49 L332.76 581.44 L333.41 581.38 L334.06 581.33 L334.7 581.27 L335.35 581.21 L336 581.16 L336.64 581.1 L337.29 581.04 L337.94 580.98 L338.58 580.92 L339.23 580.86 L339.88 580.8 L340.53 580.74 L341.17 580.67 L341.82 580.61 L342.47 580.55 L343.11 580.48 L343.76 580.42 L344.41 580.35 L345.05 580.29 L345.7 580.22 L346.35 580.15 L346.99 580.09 L347.64 580.02 L348.29 579.95 L348.93 579.88 L349.58 579.81 L350.23 579.74 L350.87 579.66 L351.52 579.59 L352.17 579.52 L352.81 579.44 L353.46 579.37 L354.11 579.29 L354.75 579.22 L355.4 579.14 L356.05 579.06 L356.7 578.99 L357.34 578.91 L357.99 578.83 L358.64 578.75 L359.28 578.67 L359.93 578.58 L360.58 578.5 L361.22 578.42 L361.87 578.33 L362.52 578.25 L363.16 578.16 L363.81 578.07 L364.46 577.98 L365.1 577.89 L365.75 577.8 L366.4 577.7 L367.04 577.6 L367.69 577.5 L368.34 577.4 L368.98 577.3 L369.63 577.19 L370.28 577.08 L370.92 576.98 L371.57 576.87 L372.22 576.76 L372.87 576.64 L373.51 576.53 L374.16 576.41 L374.81 576.3 L375.45 576.18 L376.1 576.06 L376.75 575.94 L377.39 575.82 L378.04 575.7 L378.69 575.58 L379.33 575.45 L379.98 575.33 L380.63 575.2 L381.27 575.08 L381.92 574.95 L382.57 574.83 L383.21 574.7 L383.86 574.57 L384.51 574.45 L385.15 574.32 L385.8 574.19 L386.45 574.06 L387.09 573.94 L387.74 573.81 L388.39 573.68 L389.04 573.55 L389.68 573.43 L390.33 573.3 L390.98 573.17 L391.62 573.05 L392.27 572.92 L392.92 572.79 L393.56 572.67 L394.21 572.54 L394.86 572.42 L395.5 572.3 L396.15 572.18 L396.8 572.05 L397.44 571.94 L398.09 571.82 L398.74 571.7 L399.38 571.59 L400.03 571.47 L400.68 571.36 L401.32 571.24 L401.97 571.13 L402.62 571.02 L403.26 570.9 L403.91 570.78 L404.56 570.67 L405.21 570.55 L405.85 570.43 L406.5 570.3 L407.15 570.18 L407.79 570.05 L408.44 569.92 L409.09 569.79 L409.73 569.65 L410.38 569.51 L411.03 569.36 L411.67 569.21 L412.16 569.1 L412.64 568.98 L413.13 568.86 L413.61 568.73 L414.1 568.59 L414.58 568.45 L415.07 568.3 L415.55 568.15 L416.04 568 L416.52 567.84 L417.01 567.68 L417.49 567.52 L417.98 567.36 L418.46 567.2 L418.95 567.04 L419.43 566.88 L419.92 566.73 L420.4 566.57 L420.89 566.41 L421.38 566.26 L421.86 566.1 L422.35 565.94 L422.83 565.78 L423.32 565.62 L423.8 565.46 L424.29 565.3 L424.77 565.13 L425.26 564.97 L425.74 564.8 L426.23 564.63 L426.71 564.45 L427.2 564.27 L427.68 564.09 L428.17 563.91 L428.65 563.72 L429.14 563.53 L429.62 563.33 L430.11 563.13 L430.59 562.93 L431.08 562.73 L431.56 562.52 L432.05 562.3 L432.53 562.08 L433.02 561.85 L433.5 561.61 L433.99 561.36 L434.47 561.09 L434.96 560.82 L435.44 560.52 L435.93 560.22 L436.41 559.91 L436.9 559.59 L437.38 559.27 L437.87 558.93 L438.35 558.58 L438.84 558.22 L439.32 557.84 L439.81 557.46 L440.29 557.05 L440.78 556.64 L441.1 556.35 L441.43 556.06 L441.75 555.76 L442.07 555.45 L442.4 555.13 L442.72 554.81 L443.04 554.48 L443.37 554.14 L443.69 553.79 L444.01 553.43 L444.34 553.06 L444.66 552.68 L444.98 552.3 L445.31 551.9 L445.63 551.49 L445.95 551.08 L446.28 550.65 L446.6 550.21 L446.92 549.76 L447.25 549.3 L447.57 548.78 L447.89 548.21 L448.22 547.58 L448.54 546.91 L448.86 546.2 L449.19 545.45 L449.51 544.66 L449.83 543.84 L450.16 542.99 L450.48 542.11 L450.64 541.67 L450.8 541.22 L450.97 540.77 L451.13 540.31 L451.29 539.85 L451.45 539.38 L451.61 538.92 L451.77 538.45 L451.94 537.98 L452.1 537.5 L452.26 537.03 L452.42 536.56 L452.58 536.09 L452.74 535.62 L452.91 535.15 L453.07 534.68 L453.23 534.21 L453.39 533.75 L453.55 533.29 L453.72 532.83 L453.88 532.38 L454.04 531.93 L454.2 531.49 L454.52 530.62 L454.85 529.79 L455.17 529 L455.49 528.23 L455.82 527.48 L456.14 526.75 L456.46 526.02 L456.79 525.29 L457.11 524.55 L457.43 523.8 L457.76 523.02 L458.08 522.21 L458.4 521.36 L458.57 520.92 L458.73 520.47 L458.89 520.01 L459.05 519.53 L459.21 519.04 L459.37 518.53 L459.54 518 L459.7 517.46 L459.86 516.9 L460.02 516.32 L460.18 515.72 L460.34 515.1 L460.51 514.45 L460.67 513.79 L460.83 513.1 L460.99 512.38 L461.15 511.64 L461.31 510.78 L461.48 509.72 L461.64 508.5 L461.8 507.14 L461.96 505.68 L462.12 504.15 L462.29 502.58 L462.45 501 L462.61 499.44 L462.77 497.94 L462.93 496.53 L463.09 495.23 L463.26 494.08 L463.42 493.06 L463.58 492.11 L463.74 491.22 L463.9 490.37 L464.06 489.57 L464.23 488.8 L464.39 488.04 L464.55 487.29 L464.71 486.54 L464.87 485.77 L465.03 484.97 L465.2 484.14 L465.36 483.26 L465.52 482.32 L465.68 481.31 L465.84 480.22 L466 479.05 L466.17 477.82 L466.33 476.51 L466.49 475.15 L466.65 473.72 L466.81 472.23 L466.97 470.68 L467.14 469.07 L467.3 467.41 L467.46 465.69 L467.62 463.92 L467.78 462.09 L467.94 460.22 L468.11 458.3 L468.27 456.34 L468.43 454.33 L468.59 452.28 L468.75 450.19 L468.91 447.99 L469.08 445.63 L469.24 443.14 L469.4 440.52 L469.56 437.8 L469.72 434.98 L469.89 432.1 L470.05 429.15 L470.21 426.17 L470.37 423.16 L470.53 420.15 L470.69 417.1 L470.86 413.98 L471.02 410.77 L471.18 407.48 L471.34 404.1 L471.5 400.62 L471.66 397.05 L471.83 393.37 L471.99 389.6 L472.15 385.74 L472.31 381.76 L472.47 377.67 L472.63 373.47 L472.8 369.15 L472.96 364.7 L473.12 360.05 L473.28 355.17 L473.44 350.11 L473.6 344.91 L473.77 339.61 L473.93 334.28 L474.09 328.95 L474.25 323.67 L474.41 318.49 L474.57 313.29 L474.74 307.93 L474.9 302.45 L475.06 296.87 L475.22 291.25 L475.38 285.6 L475.54 279.97 L475.71 274.39 L475.87 268.89 L476.03 263.51 L476.19 258.29 L476.35 253.25 L476.51 248.43 L476.68 243.87 L476.84 239.6 L477 235.66 L477.16 232.08 L477.32 228.76 L477.49 225.58 L477.65 222.51 L477.81 219.57 L477.97 216.74 L478.13 214 L478.29 211.36 L478.46 208.8 L478.62 206.33 L478.78 203.92 L478.94 201.57 L479.1 199.27 L479.26 197.02 L479.43 194.81 L479.59 192.62 L479.75 190.46 L479.91 188.31 L480.07 186.17 L480.23 184.02 L480.4 181.86 L480.56 179.68 L480.72 177.48 L480.88 175.24 L481.04 172.96 L481.2 170.62 L481.37 168.18 L481.53 165.58 L481.69 162.86 L481.85 160.03 L482.01 157.11 L482.17 154.14 L482.34 151.12 L482.5 148.09 L482.66 145.07 L482.82 142.08 L482.98 139.14 L483.14 136.28 L483.31 133.52 L483.47 130.87 L483.63 128.37 L483.79 126.04 L483.95 123.89 L484.11 121.96 L484.28 120.27 L484.44 118.83 L484.6 117.67 L484.76 116.81 L484.92 116.28 L485.41 117.54 L485.57 119.28 L485.73 121.65 L485.89 124.6 L486.06 128.09 L486.22 132.09 L486.38 136.54 L486.54 141.42 L486.7 146.67 L486.86 152.25 L487.03 158.14 L487.19 164.27 L487.35 170.63 L487.51 179.61 L487.67 192.3 L487.83 206.64 L488 220.59 L488.16 232.08 L488.32 241.41 L488.48 250.24 L488.64 258.57 L488.8 266.41 L488.97 273.77 L489.13 280.67 L489.29 287.1 L489.45 293.08 L489.61 298.43 L489.77 303.15 L489.94 307.43 L490.1 311.5 L490.26 315.58 L490.42 319.88 L490.58 324.63 L490.74 330.04 L490.91 336.57 L491.07 344.3 L491.23 352.85 L491.39 361.88 L491.55 371.03 L491.71 379.94 L491.88 388.25 L492.04 395.62 L492.2 401.67 L492.36 406.84 L492.52 411.81 L492.68 416.55 L492.85 421.07 L493.01 425.35 L493.17 429.39 L493.33 433.16 L493.49 436.67 L493.65 439.91 L493.82 442.86 L493.98 445.52 L494.14 447.88 L494.3 449.99 L494.46 451.94 L494.63 453.76 L494.79 455.44 L494.95 457.01 L495.11 458.5 L495.27 459.9 L495.43 461.24 L495.6 462.55 L495.76 463.82 L495.92 465.09 L496.08 466.36 L496.24 467.63 L496.4 468.88 L496.57 470.11 L496.73 471.33 L496.89 472.52 L497.05 473.69 L497.21 474.85 L497.37 475.99 L497.54 477.11 L497.7 478.21 L497.86 479.29 L498.02 480.35 L498.18 481.4 L498.34 482.43 L498.51 483.44 L498.67 484.43 L498.83 485.41 L498.99 486.36 L499.15 487.31 L499.31 488.23 L499.48 489.14 L499.64 490.04 L499.8 490.91 L499.96 491.77 L500.12 492.62 L500.28 493.45 L500.45 494.26 L500.61 495.06 L500.77 495.85 L500.93 496.63 L501.09 497.39 L501.25 498.14 L501.42 498.88 L501.58 499.61 L501.74 500.32 L501.9 501.03 L502.06 501.73 L502.23 502.42 L502.39 503.11 L502.55 503.78 L502.71 504.45 L502.87 505.11 L503.03 505.77 L503.2 506.42 L503.36 507.07 L503.52 507.71 L503.68 508.35 L503.84 508.99 L504 509.62 L504.17 510.26 L504.33 510.89 L504.49 511.52 L504.65 512.15 L504.81 512.79 L504.97 513.42 L505.14 514.04 L505.3 514.67 L505.46 515.29 L505.62 515.91 L505.78 516.52 L505.94 517.12 L506.11 517.72 L506.27 518.32 L506.43 518.9 L506.59 519.48 L506.75 520.04 L506.91 520.6 L507.08 521.14 L507.24 521.68 L507.4 522.2 L507.56 522.71 L507.72 523.21 L507.88 523.69 L508.05 524.16 L508.21 524.61 L508.53 525.47 L508.85 526.31 L509.18 527.14 L509.5 527.96 L509.82 528.77 L510.15 529.57 L510.47 530.35 L510.8 531.11 L511.12 531.86 L511.44 532.6 L511.77 533.31 L512.09 534.01 L512.41 534.7 L512.74 535.36 L513.06 536.01 L513.38 536.64 L513.71 537.24 L514.03 537.83 L514.35 538.39 L514.68 538.93 L515 539.45 L515.32 539.94 L515.65 540.42 L515.97 540.86 L516.29 541.28 L516.62 541.68 L516.94 542.06 L517.26 542.43 L517.59 542.79 L517.91 543.14 L518.23 543.49 L518.56 543.83 L518.88 544.16 L519.2 544.49 L519.53 544.81 L519.85 545.12 L520.17 545.43 L520.5 545.73 L520.82 546.03 L521.14 546.32 L521.47 546.6 L521.79 546.88 L522.28 547.29 L522.76 547.68 L523.25 548.07 L523.73 548.44 L524.22 548.81 L524.7 549.16 L525.19 549.51 L525.67 549.85 L526.16 550.19 L526.64 550.51 L527.13 550.83 L527.61 551.15 L528.1 551.46 L528.58 551.77 L529.07 552.07 L529.55 552.37 L530.04 552.66 L530.52 552.96 L531.01 553.25 L531.49 553.54 L531.98 553.83 L532.46 554.13 L532.95 554.42 L533.43 554.71 L533.92 555.01 L534.4 555.29 L534.89 555.58 L535.37 555.86 L535.86 556.14 L536.34 556.41 L536.83 556.68 L537.31 556.94 L537.8 557.21 L538.28 557.47 L538.77 557.72 L539.25 557.98 L539.74 558.23 L540.22 558.48 L540.71 558.72 L541.19 558.96 L541.68 559.2 L542.16 559.44 L542.65 559.67 L543.14 559.91 L543.62 560.14 L544.11 560.36 L544.59 560.59 L545.08 560.81 L545.56 561.03 L546.05 561.25 L546.53 561.47 L547.02 561.68 L547.5 561.89 L547.99 562.1 L548.47 562.31 L548.96 562.52 L549.44 562.73 L549.93 562.93 L550.41 563.14 L550.9 563.34 L551.38 563.54 L551.87 563.74 L552.35 563.94 L552.84 564.13 L553.32 564.33 L553.81 564.52 L554.29 564.72 L554.78 564.91 L555.26 565.1 L555.75 565.28 L556.23 565.47 L556.72 565.65 L557.2 565.83 L557.69 566.02 L558.17 566.19 L558.66 566.37 L559.14 566.55 L559.63 566.72 L560.11 566.89 L560.6 567.06 L561.08 567.23 L561.57 567.4 L562.05 567.56 L562.54 567.72 L563.02 567.88 L563.51 568.04 L563.99 568.19 L564.48 568.35 L564.96 568.5 L565.45 568.65 L565.93 568.8 L566.42 568.94 L566.91 569.08 L567.39 569.22 L567.88 569.36 L568.36 569.5 L568.85 569.64 L569.33 569.77 L569.82 569.91 L570.3 570.04 L570.79 570.17 L571.27 570.3 L571.76 570.42 L572.24 570.55 L572.73 570.68 L573.21 570.8 L573.7 570.92 L574.18 571.04 L574.67 571.16 L575.15 571.28 L575.64 571.4 L576.12 571.52 L576.61 571.63 L577.25 571.78 L577.9 571.94 L578.55 572.09 L579.19 572.23 L579.84 572.38 L580.49 572.53 L581.13 572.67 L581.78 572.82 L582.43 572.96 L583.08 573.1 L583.72 573.24 L584.37 573.38 L585.02 573.51 L585.66 573.65 L586.31 573.78 L586.96 573.91 L587.6 574.04 L588.25 574.16 L588.9 574.29 L589.54 574.41 L590.19 574.54 L590.84 574.66 L591.48 574.78 L592.13 574.9 L592.78 575.02 L593.42 575.14 L594.07 575.26 L594.72 575.38 L595.36 575.5 L596.01 575.63 L596.66 575.75 L597.3 575.87 L597.95 575.99 L598.6 576.12 L599.25 576.24 L599.89 576.37 L600.54 576.49 L601.19 576.62 L601.83 576.75 L602.48 576.89 L603.13 577.02 L603.77 577.15 L604.42 577.29 L605.07 577.42 L605.71 577.56 L606.36 577.69 L607.01 577.83 L607.65 577.96 L608.3 578.09 L608.95 578.23 L609.59 578.36 L610.24 578.49 L610.89 578.61 L611.53 578.74 L612.18 578.86 L612.83 578.98 L613.47 579.1 L614.12 579.22 L614.77 579.33 L615.42 579.44 L616.06 579.54 L616.71 579.64 L617.36 579.74 L618 579.84 L618.65 579.93 L619.3 580.03 L619.94 580.12 L620.59 580.21 L621.24 580.29 L621.88 580.38 L622.53 580.46 L623.18 580.55 L623.82 580.63 L624.47 580.71 L625.12 580.79 L625.76 580.87 L626.41 580.95 L627.06 581.03 L627.7 581.11 L628.35 581.19 L629 581.27 L629.64 581.35 L630.29 581.43 L630.94 581.52 L631.59 581.6 L632.23 581.68 L632.88 581.77 L633.53 581.85 L634.17 581.94 L634.82 582.03 L635.47 582.12 L636.11 582.21 L636.76 582.3 L637.41 582.4 L638.05 582.49 L638.7 582.58 L639.35 582.68 L639.99 582.77 L640.64 582.86 L641.29 582.96 L641.93 583.05 L642.58 583.14 L643.23 583.23 L643.87 583.31 L644.52 583.4 L645.17 583.48 L645.81 583.56 L646.46 583.64 L647.11 583.71 L647.76 583.78 L648.4 583.85 L649.05 583.91 L649.7 583.97 L650.34 584.03 L650.99 584.09 L651.64 584.16 L652.28 584.22 L652.93 584.28 L653.58 584.34 L654.22 584.4 L654.87 584.46 L655.52 584.52 L656.16 584.58 L656.81 584.64 L657.46 584.69 L658.1 584.74 L658.75 584.8 L659.4 584.84 L660.04 584.89 L660.69 584.93 L661.34 584.97 L661.98 585 L662.63 585.03 L663.28 585.06 L663.93 585.08 L664.57 585.1 L665.22 585.11 L665.87 585.11 L666.51 585.11 L667.16 585.11 L667.81 585.1 L668.45 585.09 L669.1 585.07 L669.75 585.06 L670.39 585.04 L671.04 585.01 L671.69 584.98 L672.33 584.95 L672.98 584.92 L673.63 584.89 L674.27 584.85 L674.92 584.81 L675.57 584.78 L676.21 584.73 L676.86 584.69 L677.51 584.65 L678.15 584.61 L678.8 584.56 L679.45 584.52 L680.1 584.47 L680.74 584.43 L681.39 584.38 L682.04 584.34 L682.68 584.29 L683.33 584.25 L683.98 584.2 L684.62 584.15 L685.27 584.1 L685.92 584.04 L686.56 583.99 L687.21 583.93 L687.86 583.87 L688.5 583.8 L689.15 583.74 L689.8 583.67 L690.44 583.6 L691.09 583.53 L691.74 583.46 L692.38 583.39 L693.03 583.31 L693.68 583.24 L694.32 583.16 L694.97 583.09 L695.62 583.01 L696.27 582.94 L696.91 582.86 L697.56 582.78 L698.21 582.71 L698.85 582.63 L699.5 582.55 L700.15 582.48 L700.79 582.4 L701.44 582.32 L702.09 582.24 L702.73 582.16 L703.38 582.08 L704.03 582 L704.67 581.92 L705.32 581.84 L705.97 581.75 L706.61 581.67 L707.26 581.58 L707.91 581.5 L708.55 581.41 L709.2 581.32 L709.85 581.23 L710.49 581.14 L711.14 581.05 L711.79 580.96 L712.44 580.87 L713.08 580.77 L713.73 580.68 L714.38 580.58 L715.02 580.49 L715.67 580.39 L716.32 580.29 L716.96 580.19 L717.61 580.09 L718.26 579.99 L718.9 579.89 L719.55 579.78 L720.2 579.67 L720.84 579.56 L721.49 579.45 L722.14 579.34 L722.78 579.22 L723.43 579.11 L724.08 578.99 L724.72 578.87 L725.37 578.74 L726.02 578.62 L726.66 578.49 L727.31 578.37 L727.96 578.24 L728.61 578.11 L729.25 577.98 L729.9 577.85 L730.55 577.72 L731.19 577.58 L731.84 577.45 L732.49 577.31 L733.13 577.18 L733.78 577.04 L734.43 576.9 L735.07 576.77 L735.72 576.63 L736.37 576.49 L737.01 576.36 L737.66 576.22 L738.31 576.08 L738.95 575.94 L739.6 575.81 L740.25 575.67 L740.89 575.53 L741.54 575.39 L742.19 575.26 L742.83 575.12 L743.48 574.99 L744.13 574.85 L744.78 574.72 L745.42 574.59 L746.07 574.46 L746.72 574.33 L747.36 574.2 L748.01 574.07 L748.66 573.94 L749.3 573.82 L749.95 573.69 L750.6 573.57 L751.24 573.45 L751.89 573.33 L752.54 573.21 L753.18 573.1 L753.83 572.99 L754.48 572.87 L755.12 572.76 L755.77 572.65 L756.42 572.54 L757.06 572.43 L757.71 572.32 L758.36 572.21 L759 572.11 L759.65 572 L760.3 571.9 L760.95 571.79 L761.59 571.69 L762.24 571.58 L762.89 571.48 L763.53 571.38 L764.18 571.27 L764.83 571.17 L765.47 571.07 L766.12 570.97 L766.77 570.87 L767.41 570.77 L768.06 570.67 L768.71 570.57 L769.35 570.47 L770 570.37 L770.65 570.27 L771.29 570.17 L771.94 570.07 L772.59 569.97 L773.23 569.87 L773.88 569.77 L774.53 569.67 L775.17 569.57 L775.82 569.47 L776.47 569.37 L777.12 569.27 L777.76 569.17 L778.41 569.07 L779.06 568.97 L779.7 568.86 L780.35 568.76 L781 568.66 L781.64 568.56 L782.29 568.45 L782.94 568.35 L783.58 568.24 L784.23 568.14 L784.88 568.03 L785.52 567.92 L786.17 567.81 L786.82 567.7 L787.46 567.6 L788.11 567.49 L788.76 567.38 L789.4 567.28 L790.05 567.17 L790.7 567.06 L791.34 566.96 L791.99 566.85 L792.64 566.74 L793.29 566.63 L793.93 566.52 L794.58 566.41 L795.23 566.3 L795.87 566.18 L796.52 566.07 L797.17 565.95 L797.81 565.83 L798.46 565.7 L799.11 565.58 L799.75 565.45 L800.4 565.32 L801.05 565.18 L801.69 565.04 L802.34 564.9 L802.99 564.76 L803.63 564.62 L804.28 564.47 L804.93 564.32 L805.57 564.17 L806.06 564.05 L806.54 563.94 L807.03 563.82 L807.51 563.7 L808 563.58 L808.48 563.46 L808.97 563.34 L809.46 563.21 L809.94 563.09 L810.43 562.97 L810.91 562.84 L811.4 562.71 L811.88 562.59 L812.37 562.46 L812.85 562.33 L813.34 562.2 L813.82 562.08 L814.31 561.95 L814.79 561.82 L815.28 561.69 L815.76 561.55 L816.25 561.42 L816.73 561.29 L817.22 561.16 L817.7 561.03 L818.19 560.9 L818.67 560.76 L819.16 560.63 L819.64 560.5 L820.13 560.37 L820.61 560.23 L821.1 560.1 L821.58 559.97 L822.07 559.84 L822.55 559.7 L823.04 559.57 L823.52 559.44 L824.01 559.3 L824.49 559.17 L824.98 559.04 L825.46 558.9 L825.95 558.76 L826.43 558.63 L826.92 558.49 L827.4 558.36 L827.89 558.22 L828.37 558.08 L828.86 557.94 L829.34 557.8 L829.83 557.66 L830.31 557.52 L830.8 557.38 L831.28 557.24 L831.77 557.1 L832.25 556.96 L832.74 556.82 L833.23 556.67 L833.71 556.53 L834.2 556.39 L834.68 556.24 L835.17 556.1 L835.65 555.95 L836.14 555.8 L836.62 555.66 L837.11 555.51 L837.59 555.36 L838.08 555.21 L838.56 555.06 L839.05 554.92 L839.53 554.77 L840.02 554.61 L840.5 554.46 L840.99 554.31 L841.47 554.16 L841.96 554.01 L842.44 553.85 L842.93 553.7 L843.41 553.54 L843.9 553.39 L844.38 553.23 L844.87 553.07 L845.35 552.91 L845.84 552.76 L846.32 552.6 L846.81 552.44 L847.29 552.27 L847.78 552.11 L848.26 551.95 L848.75 551.79 L849.23 551.62 L849.72 551.45 L850.2 551.29 L850.69 551.12 L851.17 550.95 L851.66 550.79 L852.14 550.62 L852.63 550.45 L853.11 550.28 L853.6 550.11 L854.08 549.93 L854.57 549.76 L855.05 549.59 L855.54 549.42 L856.02 549.24 L856.51 549.07 L856.99 548.89 L857.48 548.72 L857.97 548.54 L858.45 548.37 L858.94 548.19 L859.42 548.01 L859.91 547.83 L860.39 547.66 L860.88 547.48 L861.36 547.3 L861.85 547.12 L862.33 546.94 L862.82 546.76 L863.3 546.58 L863.79 546.4 L864.27 546.22 L864.76 546.04 L865.24 545.86 L865.73 545.68 L866.21 545.5 L866.7 545.31 L867.18 545.13 L867.67 544.95 L868.15 544.77 L868.64 544.58 L869.12 544.4 L869.61 544.21 L870.09 544.03 L870.58 543.84 L871.06 543.65 L871.55 543.47 L872.03 543.28 L872.52 543.09 L873 542.9 L873.49 542.71 L873.97 542.52 L874.46 542.33 L874.94 542.14 L875.43 541.95 L875.91 541.76 L876.4 541.57 L876.88 541.38 L877.37 541.18 L877.85 540.99 L878.34 540.8 L878.82 540.6 L879.31 540.41 L879.79 540.21 L880.28 540.02 L880.76 539.82 L881.25 539.63 L881.74 539.43 L882.22 539.24 L882.71 539.04 L883.19 538.84 L883.68 538.65 L884.16 538.45 L884.65 538.25 L885.13 538.05 L885.62 537.85 L886.1 537.66 L886.59 537.46 L887.07 537.26 L887.56 537.06 L888.04 536.86 L888.53 536.66 L889.01 536.46 L889.5 536.26 L889.98 536.06 L890.47 535.86 L890.95 535.66 L891.44 535.46 L891.92 535.26 L892.41 535.06 L892.89 534.85 L893.38 534.65 L893.86 534.45 L894.35 534.25 L894.83 534.04 L895.32 533.84 L895.8 533.64 L896.29 533.43 L896.77 533.23 L897.26 533.02 L897.74 532.82 L898.23 532.61 L898.71 532.41 L899.2 532.2 L899.68 531.99 L900.17 531.79 L900.65 531.58 L901.14 531.37 L901.62 531.16 L902.11 530.95 L902.59 530.74 L903.08 530.54 L903.56 530.33 L904.05 530.11 L904.53 529.9 L905.02 529.69 L905.5 529.48 L905.99 529.27 L906.48 529.06 L906.96 528.84 L907.45 528.63 L907.93 528.42 L908.42 528.2 L908.9 527.99 L909.39 527.77 L909.87 527.56 L910.36 527.34 L910.84 527.12 L911.33 526.91 L911.81 526.69 L912.3 526.47 L912.78 526.26 L913.27 526.04 L913.75 525.83 L914.24 525.61 L914.72 525.4 L915.21 525.18 L915.69 524.97 L916.18 524.75 L916.66 524.54 L917.15 524.32 L917.63 524.11 L918.12 523.89 L918.6 523.67 L919.09 523.46 L919.57 523.24 L920.06 523.02 L920.54 522.8 L921.03 522.58 L921.51 522.36 L922 522.14 L922.48 521.92 L922.97 521.69 L923.45 521.47 L923.94 521.24 L924.42 521.01 L924.91 520.79 L925.39 520.56 L925.88 520.32 L926.36 520.09 L926.85 519.86 L927.33 519.62 L927.82 519.38 L928.3 519.14 L928.79 518.9 L929.27 518.66 L929.76 518.41 L930.25 518.17 L930.73 517.92 L931.22 517.67 L931.7 517.41 L932.19 517.16 L932.67 516.9 L933.16 516.64 L933.64 516.37 L934.13 516.1 L934.61 515.83 L935.1 515.55 L935.58 515.27 L936.07 514.98 L936.55 514.69 L937.04 514.39 L937.52 514.1 L938.01 513.8 L938.49 513.49 L938.98 513.19 L939.46 512.88 L939.95 512.57 L940.43 512.25 L940.92 511.94 L941.4 511.62 L941.89 511.31 L942.37 510.99 L942.86 510.67 L943.34 510.35 L943.83 510.03 L944.31 509.71 L944.8 509.39 L945.28 509.07 L945.77 508.75 L946.25 508.43 L946.74 508.11 L947.22 507.79 L947.71 507.48 L948.19 507.16 L948.68 506.85 L949.16 506.54 L949.65 506.23 L950.13 505.93 L950.62 505.62 L951.1 505.32 L951.59 505.03 L952.07 504.73 L952.56 504.44 L953.04 504.15 L953.53 503.87 L954.01 503.6 L954.5 503.33" fill="none" stroke="#c00000" stroke-width="3.6" stroke-dasharray="6.6 7.4" stroke-linecap="round" stroke-linejoin="round"/>
<path d="M146 586.13 L146.65 586.13 L147.29 586.13 L147.94 586.13 L148.59 586.13 L149.23 586.13 L149.88 586.13 L150.53 586.13 L151.17 586.13 L151.82 586.13 L152.47 586.13 L153.11 586.13 L153.76 586.13 L154.41 586.13 L155.06 586.13 L155.7 586.13 L156.35 586.13 L157 586.13 L157.64 586.13 L158.29 586.13 L158.94 586.13 L159.58 586.13 L160.23 586.13 L160.88 586.13 L161.52 586.13 L162.17 586.13 L162.82 586.13 L163.46 586.13 L164.11 586.13 L164.76 586.13 L165.4 586.12 L166.05 586.12 L166.7 586.11 L167.34 586.11 L167.99 586.1 L168.64 586.1 L169.28 586.09 L169.93 586.08 L170.58 586.07 L171.23 586.06 L171.87 586.05 L172.52 586.03 L173.17 586.02 L173.81 586 L174.46 585.99 L175.11 585.97 L175.75 585.95 L176.4 585.91 L177.05 585.81 L177.69 585.66 L178.18 585.52 L178.66 585.34 L179.15 584.98 L179.47 584.58 L179.8 584.11 L180.12 583.61 L180.44 583.12 L180.77 582.68 L181.09 582.34 L181.57 581.95 L182.06 581.6 L182.54 581.28 L183.03 580.99 L183.51 580.71 L184 580.45 L184.48 580.19 L184.97 579.93 L185.45 579.66 L185.94 579.39 L186.43 579.14 L186.91 578.91 L187.4 578.68 L187.88 578.45 L188.37 578.2 L188.85 577.92 L189.34 577.62 L189.82 577.26 L190.31 576.85 L190.63 576.56 L190.95 576.23 L191.28 575.88 L191.6 575.49 L191.92 575.06 L192.25 574.58 L192.57 574.06 L192.89 573.49 L193.22 572.86 L193.54 572.18 L193.86 571.27 L194.02 570.7 L194.19 570.05 L194.35 569.35 L194.51 568.58 L194.67 567.78 L194.83 566.94 L195 566.07 L195.16 565.19 L195.32 564.29 L195.48 563.4 L195.64 562.43 L195.8 561.35 L195.97 560.17 L196.13 558.94 L196.29 557.66 L196.45 556.38 L196.61 555.13 L196.77 553.93 L196.94 552.8 L197.1 551.79 L197.26 550.92 L197.42 550.13 L197.58 549.34 L197.74 548.57 L197.91 547.8 L198.07 547.05 L198.23 546.32 L198.39 545.61 L198.55 544.93 L198.71 544.27 L198.88 543.64 L199.04 543.05 L199.2 542.49 L199.36 541.97 L199.52 541.49 L199.85 540.67 L200.17 540.05 L200.49 539.64 L200.82 539.27 L201.14 538.92 L201.46 538.6 L201.79 538.32 L202.27 537.96 L202.76 537.7 L203.24 537.55 L203.89 537.58 L204.37 537.88 L204.7 538.2 L205.02 538.6 L205.34 539.06 L205.67 539.59 L205.99 540.15 L206.31 540.75 L206.64 541.37 L206.96 541.99 L207.28 542.6 L207.61 543.26 L207.93 544.03 L208.25 544.88 L208.42 545.33 L208.58 545.8 L208.74 546.28 L208.9 546.78 L209.06 547.29 L209.22 547.81 L209.39 548.34 L209.55 548.87 L209.71 549.41 L209.87 549.96 L210.03 550.5 L210.19 551.04 L210.36 551.58 L210.52 552.12 L210.68 552.65 L210.84 553.18 L211 553.69 L211.17 554.21 L211.33 554.74 L211.49 555.27 L211.65 555.82 L211.81 556.37 L211.97 556.93 L212.14 557.5 L212.3 558.06 L212.46 558.63 L212.62 559.2 L212.78 559.77 L212.94 560.34 L213.11 560.91 L213.27 561.47 L213.43 562.03 L213.59 562.58 L213.75 563.13 L213.91 563.66 L214.08 564.19 L214.24 564.7 L214.4 565.21 L214.56 565.69 L214.72 566.17 L214.88 566.63 L215.05 567.09 L215.21 567.55 L215.37 568.01 L215.53 568.47 L215.69 568.92 L215.85 569.36 L216.02 569.81 L216.18 570.25 L216.5 571.12 L216.82 571.97 L217.15 572.81 L217.47 573.62 L217.79 574.42 L218.12 575.19 L218.44 575.93 L218.76 576.65 L219.09 577.35 L219.41 578.01 L219.74 578.64 L220.06 579.26 L220.38 579.86 L220.71 580.45 L221.03 581.01 L221.35 581.53 L221.68 582.01 L222 582.44 L222.32 582.8 L222.65 583.14 L222.97 583.47 L223.29 583.79 L223.62 584.08 L224.1 584.42 L224.59 584.62 L225.23 584.7 L225.88 584.76 L226.53 584.82 L227.17 584.87 L227.82 584.91 L228.47 584.95 L229.11 584.98 L229.76 585.01 L230.41 585.04 L231.05 585.06 L231.7 585.08 L232.35 585.09 L232.99 585.1 L233.64 585.11 L234.29 585.11 L234.94 585.11 L235.58 585.11 L236.23 585.11 L236.88 585.11 L237.52 585.11 L238.17 585.11 L238.82 585.11 L239.46 585.11 L240.11 585.11 L240.76 585.11 L241.4 585.11 L242.05 585.11 L242.7 585.11 L243.34 585.11 L243.99 585.11 L244.64 585.11 L245.28 585.11 L245.93 585.11 L246.58 585.11 L247.22 585.11 L247.87 585.11 L248.52 585.11 L249.16 585.11 L249.81 585.11 L250.46 585.11 L251.11 585.11 L251.75 585.11 L252.4 585.11 L253.05 585.11 L253.69 585.11 L254.34 585.11 L254.99 585.11 L255.63 585.11 L256.28 585.11 L256.93 585.11 L257.57 585.11 L258.22 585.11 L258.87 585.11 L259.51 585.11 L260.16 585.11 L260.81 585.11 L261.45 585.11 L262.1 585.11 L262.75 585.11 L263.39 585.11 L264.04 585.11 L264.69 585.11 L265.33 585.11 L265.98 585.11 L266.63 585.11 L267.27 585.11 L267.92 585.11 L268.57 585.11 L269.22 585.11 L269.86 585.11 L270.51 585.11 L271.16 585.11 L271.8 585.11 L272.45 585.11 L273.1 585.11 L273.74 585.11 L274.39 585.11 L275.04 585.11 L275.68 585.11 L276.33 585.11 L276.98 585.11 L277.62 585.11 L278.27 585.11 L278.92 585.11 L279.56 585.11 L280.21 585.11 L280.86 585.11 L281.5 585.11 L282.15 585.11 L282.8 585.11 L283.44 585.11 L284.09 585.11 L284.74 585.11 L285.39 585.11 L286.03 585.11 L286.68 585.11 L287.33 585.11 L287.97 585.11 L288.62 585.11 L289.27 585.11 L289.91 585.11 L290.56 585.11 L291.21 585.11 L291.85 585.11 L292.5 585.11 L293.15 585.11 L293.79 585.11 L294.44 585.11 L295.09 585.11 L295.73 585.11 L296.38 585.11 L297.03 585.11 L297.67 585.11 L298.32 585.11 L298.97 585.11 L299.62 585.11 L300.26 585.11 L300.91 585.11 L301.56 585.11 L302.2 585.11 L302.85 585.11 L303.5 585.11 L304.14 585.11 L304.79 585.11 L305.44 585.11 L306.08 585.11 L306.73 585.11 L307.38 585.11 L308.02 585.11 L308.67 585.11 L309.32 585.11 L309.96 585.11 L310.61 585.11 L311.26 585.11 L311.9 585.11 L312.55 585.11 L313.2 585.11 L313.84 585.11 L314.49 585.11 L315.14 585.11 L315.78 585.11 L316.43 585.11 L317.08 585.11 L317.73 585.1 L318.37 585.1 L319.02 585.1 L319.67 585.1 L320.31 585.1 L320.96 585.1 L321.61 585.1 L322.25 585.1 L322.9 585.09 L323.55 585.09 L324.19 585.09 L324.84 585.09 L325.49 585.09 L326.13 585.08 L326.78 585.08 L327.43 585.08 L328.07 585.08 L328.72 585.08 L329.37 585.07 L330.01 585.07 L330.66 585.07 L331.31 585.07 L331.96 585.06 L332.6 585.06 L333.25 585.06 L333.9 585.06 L334.54 585.05 L335.19 585.05 L335.84 585.05 L336.48 585.04 L337.13 585.04 L337.78 585.04 L338.42 585.03 L339.07 585.03 L339.72 585.03 L340.36 585.03 L341.01 585.02 L341.66 585.02 L342.3 585.02 L342.95 585.01 L343.6 585.01 L344.24 585 L344.89 585 L345.54 585 L346.18 584.99 L346.83 584.99 L347.48 584.99 L348.12 584.98 L348.77 584.98 L349.42 584.97 L350.07 584.97 L350.71 584.97 L351.36 584.96 L352.01 584.96 L352.65 584.95 L353.3 584.95 L353.95 584.94 L354.59 584.94 L355.24 584.93 L355.89 584.93 L356.53 584.93 L357.18 584.92 L357.83 584.92 L358.47 584.91 L359.12 584.91 L359.77 584.9 L360.41 584.9 L361.06 584.89 L361.71 584.89 L362.35 584.88 L363 584.88 L363.65 584.87 L364.29 584.87 L364.94 584.86 L365.59 584.86 L366.24 584.85 L366.88 584.85 L367.53 584.84 L368.18 584.84 L368.82 584.83 L369.47 584.83 L370.12 584.82 L370.76 584.81 L371.41 584.81 L372.06 584.8 L372.7 584.8 L373.35 584.79 L374 584.79 L374.64 584.78 L375.29 584.78 L375.94 584.77 L376.58 584.76 L377.23 584.76 L377.88 584.75 L378.52 584.75 L379.17 584.74 L379.82 584.73 L380.47 584.73 L381.11 584.72 L381.76 584.72 L382.41 584.71 L383.05 584.7 L383.7 584.7 L384.35 584.69 L384.99 584.69 L385.64 584.68 L386.29 584.67 L386.93 584.67 L387.58 584.66 L388.23 584.65 L388.87 584.65 L389.52 584.64 L390.17 584.64 L390.81 584.63 L391.46 584.62 L392.11 584.61 L392.75 584.61 L393.4 584.6 L394.05 584.59 L394.69 584.58 L395.34 584.57 L395.99 584.56 L396.63 584.55 L397.28 584.54 L397.93 584.53 L398.58 584.52 L399.22 584.51 L399.87 584.5 L400.52 584.49 L401.16 584.48 L401.81 584.47 L402.46 584.46 L403.1 584.45 L403.75 584.44 L404.4 584.42 L405.04 584.41 L405.69 584.4 L406.34 584.39 L406.98 584.37 L407.63 584.36 L408.28 584.35 L408.92 584.33 L409.57 584.32 L410.22 584.3 L410.86 584.29 L411.51 584.27 L412.16 584.26 L412.81 584.24 L413.45 584.23 L414.1 584.21 L414.75 584.2 L415.39 584.18 L416.04 584.16 L416.69 584.15 L417.33 584.13 L417.98 584.11 L418.63 584.09 L419.27 584.08 L419.92 584.06 L420.57 584.04 L421.21 584.02 L421.86 584 L422.51 583.98 L423.15 583.97 L423.8 583.95 L424.45 583.93 L425.09 583.91 L425.74 583.89 L426.39 583.87 L427.03 583.84 L427.68 583.82 L428.33 583.8 L428.98 583.78 L429.62 583.76 L430.27 583.74 L430.92 583.72 L431.56 583.69 L432.21 583.67 L432.86 583.65 L433.5 583.62 L434.15 583.6 L434.8 583.58 L435.44 583.55 L436.09 583.53 L436.74 583.51 L437.38 583.48 L438.03 583.46 L438.68 583.43 L439.32 583.41 L439.97 583.38 L440.62 583.35 L441.26 583.33 L441.91 583.3 L442.56 583.28 L443.2 583.25 L443.85 583.22 L444.5 583.19 L445.14 583.17 L445.79 583.14 L446.44 583.11 L447.09 583.08 L447.73 583.06 L448.38 583.03 L449.03 583 L449.67 582.97 L450.32 582.94 L450.97 582.91 L451.61 582.88 L452.26 582.85 L452.91 582.82 L453.55 582.79 L454.2 582.76 L454.85 582.72 L455.49 582.69 L456.14 582.65 L456.79 582.62 L457.43 582.58 L458.08 582.54 L458.73 582.5 L459.37 582.46 L460.02 582.41 L460.67 582.37 L461.31 582.32 L461.96 582.28 L462.61 582.23 L463.26 582.18 L463.9 582.13 L464.55 582.07 L465.2 582.02 L465.84 581.96 L466.49 581.91 L467.14 581.85 L467.78 581.79 L468.43 581.73 L469.08 581.67 L469.72 581.6 L470.37 581.54 L471.02 581.47 L471.66 581.4 L472.31 581.33 L472.96 581.26 L473.6 581.19 L474.25 581.12 L474.9 581.04 L475.54 580.96 L476.19 580.88 L476.84 580.8 L477.49 580.72 L478.13 580.64 L478.78 580.56 L479.43 580.47 L480.07 580.38 L480.72 580.29 L481.37 580.2 L482.01 580.11 L482.66 580.01 L483.31 579.92 L483.95 579.82 L484.6 579.72 L485.25 579.62 L485.89 579.52 L486.54 579.41 L487.19 579.3 L487.83 579.18 L488.48 579.05 L489.13 578.92 L489.77 578.78 L490.42 578.64 L491.07 578.48 L491.55 578.36 L492.04 578.24 L492.52 578.11 L493.01 577.97 L493.49 577.83 L493.98 577.69 L494.46 577.54 L494.95 577.38 L495.43 577.22 L495.92 577.05 L496.4 576.88 L496.89 576.7 L497.37 576.51 L497.86 576.32 L498.34 576.12 L498.83 575.92 L499.31 575.7 L499.8 575.48 L500.28 575.25 L500.77 574.97 L501.25 574.65 L501.74 574.28 L502.23 573.89 L502.55 573.61 L502.87 573.32 L503.2 573.02 L503.52 572.71 L503.84 572.4 L504.17 572.07 L504.49 571.75 L504.81 571.42 L505.14 571.09 L505.46 570.8 L505.94 570.42 L506.43 570.04 L506.91 569.63 L507.24 569.31 L507.56 568.93 L507.88 568.49 L508.21 567.96 L508.53 567.33 L508.85 566.58 L509.18 565.71 L509.34 564.72 L509.5 562.79 L509.66 560.01 L509.82 556.48 L509.99 552.29 L510.15 547.56 L510.31 542.37 L510.47 536.84 L510.63 531.05 L510.8 523.87 L510.96 514.35 L511.12 502.89 L511.28 489.88 L511.44 475.73 L511.6 460.83 L511.77 445.57 L511.93 430.36 L512.09 415.6 L512.25 401.67 L512.41 387.81 L512.57 373.17 L512.74 358 L512.9 342.57 L513.06 327.14 L513.22 311.97 L513.38 297.32 L513.54 283.45 L513.71 270.64 L513.87 259.12 L514.03 249.18 L514.19 240.29 L514.35 231.77 L514.51 223.62 L514.68 215.82 L514.84 208.38 L515 201.29 L515.16 194.55 L515.32 188.15 L515.48 182.1 L515.65 176.37 L515.81 170.98 L515.97 165.92 L516.13 161.18 L516.29 156.76 L516.45 152.41 L516.62 147.94 L516.78 143.51 L516.94 139.24 L517.1 135.26 L517.26 131.71 L517.42 128.72 L517.59 126.42 L517.75 124.94 L517.91 124.42 L518.07 125.17 L518.23 127.36 L518.4 130.86 L518.56 135.55 L518.72 141.31 L518.88 148.01 L519.04 155.54 L519.2 163.76 L519.37 172.57 L519.53 181.83 L519.69 191.42 L519.85 201.23 L520.01 211.12 L520.17 220.99 L520.34 230.7 L520.5 240.14 L520.66 249.18 L520.82 258.15 L520.98 267.44 L521.14 277.03 L521.31 286.92 L521.47 297.1 L521.63 307.53 L521.79 318.21 L521.95 329.13 L522.11 340.26 L522.28 351.6 L522.44 363.13 L522.6 374.84 L522.76 386.7 L522.92 398.7 L523.08 410.84 L523.25 423.09 L523.41 435.44 L523.57 447.88 L523.73 462.02 L523.89 478.67 L524.05 496.52 L524.22 514.29 L524.38 530.69 L524.54 544.43 L524.7 554.22 L524.86 558.77 L525.02 560.22 L525.19 561.56 L525.35 562.8 L525.51 563.93 L525.67 564.98 L525.83 565.93 L526 566.8 L526.16 567.6 L526.32 568.32 L526.48 568.97 L526.64 569.56 L526.8 570.09 L526.97 570.57 L527.29 571.38 L527.61 572.05 L527.94 572.61 L528.26 573.1 L528.58 573.55 L528.91 573.97 L529.23 574.37 L529.55 574.73 L529.88 575.07 L530.2 575.38 L530.52 575.67 L531.01 576.05 L531.49 576.39 L531.98 576.68 L532.46 576.93 L532.95 577.14 L533.43 577.32 L533.92 577.48 L534.4 577.64 L534.89 577.79 L535.37 577.93 L535.86 578.07 L536.34 578.2 L536.83 578.33 L537.31 578.45 L537.96 578.6 L538.61 578.74 L539.25 578.88 L539.9 579 L540.55 579.12 L541.19 579.24 L541.84 579.34 L542.49 579.45 L543.14 579.54 L543.78 579.64 L544.43 579.73 L545.08 579.82 L545.72 579.91 L546.37 580 L547.02 580.09 L547.66 580.17 L548.31 580.26 L548.96 580.35 L549.6 580.45 L550.25 580.54 L550.9 580.64 L551.54 580.73 L552.19 580.83 L552.84 580.92 L553.48 581.02 L554.13 581.11 L554.78 581.2 L555.42 581.29 L556.07 581.38 L556.72 581.47 L557.36 581.55 L558.01 581.63 L558.66 581.72 L559.31 581.8 L559.95 581.87 L560.6 581.95 L561.25 582.02 L561.89 582.09 L562.54 582.15 L563.19 582.22 L563.83 582.28 L564.48 582.33 L565.13 582.39 L565.77 582.43 L566.42 582.48 L567.07 582.52 L567.71 582.57 L568.36 582.61 L569.01 582.65 L569.65 582.69 L570.3 582.73 L570.95 582.77 L571.59 582.81 L572.24 582.84 L572.89 582.88 L573.53 582.92 L574.18 582.96 L574.83 582.99 L575.48 583.03 L576.12 583.06 L576.77 583.09 L577.42 583.13 L578.06 583.16 L578.71 583.19 L579.36 583.22 L580 583.26 L580.65 583.29 L581.3 583.32 L581.94 583.34 L582.59 583.37 L583.24 583.4 L583.88 583.43 L584.53 583.45 L585.18 583.48 L585.82 583.51 L586.47 583.53 L587.12 583.56 L587.76 583.58 L588.41 583.6 L589.06 583.63 L589.7 583.65 L590.35 583.67 L591 583.69 L591.65 583.71 L592.29 583.73 L592.94 583.75 L593.59 583.77 L594.23 583.78 L594.88 583.8 L595.53 583.82 L596.17 583.83 L596.82 583.85 L597.47 583.86 L598.11 583.88 L598.76 583.89 L599.41 583.91 L600.05 583.92 L600.7 583.93 L601.35 583.94 L601.99 583.96 L602.64 583.97 L603.29 583.98 L603.93 583.99 L604.58 584.01 L605.23 584.02 L605.87 584.03 L606.52 584.04 L607.17 584.05 L607.82 584.06 L608.46 584.08 L609.11 584.09 L609.76 584.1 L610.4 584.11 L611.05 584.12 L611.7 584.13 L612.34 584.15 L612.99 584.16 L613.64 584.17 L614.28 584.18 L614.93 584.19 L615.58 584.2 L616.22 584.21 L616.87 584.22 L617.52 584.23 L618.16 584.24 L618.81 584.25 L619.46 584.26 L620.1 584.27 L620.75 584.28 L621.4 584.29 L622.04 584.3 L622.69 584.31 L623.34 584.32 L623.99 584.33 L624.63 584.34 L625.28 584.35 L625.93 584.36 L626.57 584.37 L627.22 584.38 L627.87 584.39 L628.51 584.4 L629.16 584.41 L629.81 584.41 L630.45 584.42 L631.1 584.43 L631.75 584.44 L632.39 584.45 L633.04 584.45 L633.69 584.46 L634.33 584.47 L634.98 584.48 L635.63 584.49 L636.27 584.49 L636.92 584.5 L637.57 584.51 L638.21 584.51 L638.86 584.52 L639.51 584.53 L640.16 584.53 L640.8 584.54 L641.45 584.54 L642.1 584.55 L642.74 584.56 L643.39 584.56 L644.04 584.57 L644.68 584.57 L645.33 584.58 L645.98 584.58 L646.62 584.59 L647.27 584.59 L647.92 584.6 L648.56 584.6 L649.21 584.61 L649.86 584.61 L650.5 584.61 L651.15 584.62 L651.8 584.62 L652.44 584.62 L653.09 584.63 L653.74 584.63 L654.38 584.63 L655.03 584.64 L655.68 584.64 L656.33 584.64 L656.97 584.64 L657.62 584.64 L658.27 584.65 L658.91 584.65 L659.56 584.65 L660.21 584.65 L660.85 584.65 L661.5 584.65 L662.15 584.65 L662.79 584.65 L663.44 584.65 L664.09 584.65 L664.73 584.65 L665.38 584.65 L666.03 584.65 L666.67 584.65 L667.32 584.65 L667.97 584.65 L668.61 584.65 L669.26 584.65 L669.91 584.65 L670.55 584.65 L671.2 584.65 L671.85 584.65 L672.5 584.65 L673.14 584.65 L673.79 584.65 L674.44 584.65 L675.08 584.65 L675.73 584.65 L676.38 584.65 L677.02 584.65 L677.67 584.65 L678.32 584.65 L678.96 584.65 L679.61 584.65 L680.26 584.65 L680.9 584.65 L681.55 584.65 L682.2 584.65 L682.84 584.65 L683.49 584.65 L684.14 584.65 L684.78 584.65 L685.43 584.65 L686.08 584.65 L686.72 584.65 L687.37 584.65 L688.02 584.65 L688.67 584.65 L689.31 584.65 L689.96 584.65 L690.61 584.65 L691.25 584.65 L691.9 584.65 L692.55 584.65 L693.19 584.65 L693.84 584.65 L694.49 584.65 L695.13 584.65 L695.78 584.65 L696.43 584.65 L697.07 584.65 L697.72 584.65 L698.37 584.65 L699.01 584.65 L699.66 584.65 L700.31 584.65 L700.95 584.65 L701.6 584.65 L702.25 584.65 L702.89 584.65 L703.54 584.65 L704.19 584.65 L704.84 584.65 L705.48 584.65 L706.13 584.65 L706.78 584.65 L707.42 584.65 L708.07 584.65 L708.72 584.65 L709.36 584.65 L710.01 584.65 L710.66 584.65 L711.3 584.65 L711.95 584.65 L712.6 584.65 L713.24 584.65 L713.89 584.65 L714.54 584.65 L715.18 584.65 L715.83 584.65 L716.48 584.65 L717.12 584.65 L717.77 584.65 L718.42 584.65 L719.06 584.65 L719.71 584.65 L720.36 584.65 L721.01 584.65 L721.65 584.65 L722.3 584.65 L722.95 584.65 L723.59 584.65 L724.24 584.65 L724.89 584.65 L725.53 584.65 L726.18 584.65 L726.83 584.65 L727.47 584.65 L728.12 584.65 L728.77 584.65 L729.41 584.65 L730.06 584.65 L730.71 584.65 L731.35 584.65 L732 584.65 L732.65 584.65 L733.29 584.65 L733.94 584.65 L734.59 584.64 L735.23 584.64 L735.88 584.64 L736.53 584.64 L737.18 584.64 L737.82 584.63 L738.47 584.63 L739.12 584.63 L739.76 584.63 L740.41 584.62 L741.06 584.62 L741.7 584.62 L742.35 584.62 L743 584.61 L743.64 584.61 L744.29 584.61 L744.94 584.6 L745.58 584.6 L746.23 584.6 L746.88 584.59 L747.52 584.59 L748.17 584.58 L748.82 584.58 L749.46 584.58 L750.11 584.57 L750.76 584.57 L751.4 584.56 L752.05 584.56 L752.7 584.55 L753.35 584.55 L753.99 584.54 L754.64 584.54 L755.29 584.53 L755.93 584.53 L756.58 584.52 L757.23 584.52 L757.87 584.51 L758.52 584.51 L759.17 584.5 L759.81 584.5 L760.46 584.49 L761.11 584.49 L761.75 584.48 L762.4 584.47 L763.05 584.47 L763.69 584.46 L764.34 584.46 L764.99 584.45 L765.63 584.45 L766.28 584.44 L766.93 584.43 L767.57 584.43 L768.22 584.42 L768.87 584.42 L769.52 584.41 L770.16 584.4 L770.81 584.4 L771.46 584.39 L772.1 584.38 L772.75 584.38 L773.4 584.37 L774.04 584.37 L774.69 584.36 L775.34 584.35 L775.98 584.35 L776.63 584.34 L777.28 584.33 L777.92 584.33 L778.57 584.32 L779.22 584.32 L779.86 584.31 L780.51 584.3 L781.16 584.3 L781.8 584.29 L782.45 584.28 L783.1 584.28 L783.74 584.27 L784.39 584.27 L785.04 584.26 L785.69 584.25 L786.33 584.25 L786.98 584.24 L787.63 584.24 L788.27 584.23 L788.92 584.22 L789.57 584.22 L790.21 584.21 L790.86 584.21 L791.51 584.2 L792.15 584.2 L792.8 584.19 L793.45 584.18 L794.09 584.18 L794.74 584.17 L795.39 584.17 L796.03 584.16 L796.68 584.16 L797.33 584.15 L797.97 584.14 L798.62 584.14 L799.27 584.13 L799.91 584.13 L800.56 584.12 L801.21 584.11 L801.86 584.11 L802.5 584.1 L803.15 584.1 L803.8 584.09 L804.44 584.08 L805.09 584.08 L805.74 584.07 L806.38 584.06 L807.03 584.06 L807.68 584.05 L808.32 584.05 L808.97 584.04 L809.62 584.03 L810.26 584.03 L810.91 584.02 L811.56 584.01 L812.2 584.01 L812.85 584 L813.5 583.99 L814.14 583.99 L814.79 583.98 L815.44 583.97 L816.08 583.97 L816.73 583.96 L817.38 583.95 L818.03 583.95 L818.67 583.94 L819.32 583.93 L819.97 583.93 L820.61 583.92 L821.26 583.91 L821.91 583.9 L822.55 583.9 L823.2 583.89 L823.85 583.88 L824.49 583.88 L825.14 583.87 L825.79 583.86 L826.43 583.85 L827.08 583.85 L827.73 583.84 L828.37 583.83 L829.02 583.83 L829.67 583.82 L830.31 583.81 L830.96 583.8 L831.61 583.8 L832.25 583.79 L832.9 583.78 L833.55 583.77 L834.2 583.77 L834.84 583.76 L835.49 583.75 L836.14 583.74 L836.78 583.74 L837.43 583.73 L838.08 583.72 L838.72 583.71 L839.37 583.71 L840.02 583.7 L840.66 583.69 L841.31 583.68 L841.96 583.67 L842.6 583.67 L843.25 583.66 L843.9 583.65 L844.54 583.64 L845.19 583.64 L845.84 583.63 L846.48 583.62 L847.13 583.61 L847.78 583.6 L848.42 583.6 L849.07 583.59 L849.72 583.58 L850.37 583.57 L851.01 583.56 L851.66 583.56 L852.31 583.55 L852.95 583.54 L853.6 583.53 L854.25 583.52 L854.89 583.51 L855.54 583.51 L856.19 583.5 L856.83 583.49 L857.48 583.48 L858.13 583.47 L858.77 583.46 L859.42 583.46 L860.07 583.45 L860.71 583.44 L861.36 583.43 L862.01 583.42 L862.65 583.41 L863.3 583.4 L863.95 583.4 L864.59 583.39 L865.24 583.38 L865.89 583.37 L866.54 583.36 L867.18 583.35 L867.83 583.34 L868.48 583.34 L869.12 583.33 L869.77 583.32 L870.42 583.31 L871.06 583.3 L871.71 583.29 L872.36 583.28 L873 583.27 L873.65 583.27 L874.3 583.26 L874.94 583.25 L875.59 583.24 L876.24 583.23 L876.88 583.22 L877.53 583.21 L878.18 583.2 L878.82 583.19 L879.47 583.18 L880.12 583.17 L880.76 583.17 L881.41 583.16 L882.06 583.15 L882.71 583.14 L883.35 583.13 L884 583.12 L884.65 583.11 L885.29 583.1 L885.94 583.09 L886.59 583.08 L887.23 583.07 L887.88 583.06 L888.53 583.05 L889.17 583.04 L889.82 583.03 L890.47 583.02 L891.11 583.01 L891.76 583 L892.41 582.99 L893.05 582.98 L893.7 582.97 L894.35 582.96 L894.99 582.95 L895.64 582.94 L896.29 582.93 L896.93 582.92 L897.58 582.91 L898.23 582.9 L898.88 582.89 L899.52 582.88 L900.17 582.87 L900.82 582.86 L901.46 582.85 L902.11 582.84 L902.76 582.83 L903.4 582.82 L904.05 582.81 L904.7 582.79 L905.34 582.78 L905.99 582.77 L906.64 582.76 L907.28 582.75 L907.93 582.74 L908.58 582.73 L909.22 582.72 L909.87 582.71 L910.52 582.7 L911.16 582.69 L911.81 582.67 L912.46 582.66 L913.1 582.65 L913.75 582.64 L914.4 582.63 L915.05 582.62 L915.69 582.61 L916.34 582.6 L916.99 582.59 L917.63 582.57 L918.28 582.56 L918.93 582.55 L919.57 582.54 L920.22 582.53 L920.87 582.52 L921.51 582.51 L922.16 582.49 L922.81 582.48 L923.45 582.47 L924.1 582.46 L924.75 582.45 L925.39 582.44 L926.04 582.42 L926.69 582.41 L927.33 582.4 L927.98 582.39 L928.63 582.38 L929.27 582.36 L929.92 582.35 L930.57 582.34 L931.22 582.33 L931.86 582.32 L932.51 582.3 L933.16 582.29 L933.8 582.28 L934.45 582.27 L935.1 582.26 L935.74 582.24 L936.39 582.23 L937.04 582.22 L937.68 582.21 L938.33 582.19 L938.98 582.18 L939.62 582.17 L940.27 582.16 L940.92 582.15 L941.56 582.13 L942.21 582.12 L942.86 582.11 L943.5 582.1 L944.15 582.08 L944.8 582.07 L945.44 582.06 L946.09 582.05 L946.74 582.03 L947.39 582.02 L948.03 582.01 L948.68 581.99 L949.33 581.98 L949.97 581.97 L950.62 581.96 L951.27 581.94 L951.91 581.93 L952.56 581.92 L953.21 581.9 L953.85 581.89 L954.5 581.88" fill="none" stroke="#ffc000" stroke-width="3" stroke-linejoin="round" stroke-linecap="round"/>
<path d="M464.8 103.3 H471 L483.7 115.9 M535 110 L507 121.3 M517 124 L529.6 138.4 H534.6 M182.7 554.2 H191" stroke="#595959" stroke-width="1.1" fill="none"/>
<text x="420.5" y="113.2" font-size="26" class="b">210</text>
<text x="515.5" y="102.4" font-size="26" class="b">223</text>
<text x="540" y="148.3" font-size="26" class="b">230</text>
<text x="167.5" y="516.6" font-size="27" class="b">28.5</text>
<text x="214" y="547.6" font-size="26" class="b">35</text>
<text x="151.5" y="563.7" font-size="26" class="b">30</text>
<rect x="575.2" y="392.4" width="366" height="85" fill="#fff" stroke="#262626" stroke-width="1.3"/>
<path d="M585 405.9 H622.5" stroke="#002060" stroke-width="3.4" stroke-linecap="round"/>
<path d="M585 434.8 H622.5" stroke="#c00000" stroke-width="3.6" stroke-dasharray="6.6 7.4" stroke-linecap="round"/>
<path d="M585 463.3 H622.5" stroke="#ffc000" stroke-width="3" stroke-linecap="round"/>
<text x="627" y="414" font-size="23" class="b">Experimental</text>
<text x="627" y="442.8" font-size="23" class="b">Simulated-With Point Mass</text>
<text x="627" y="471.3" font-size="23" class="b">Simulated-Without Point Mass</text>
<text x="998" y="15.5" class="sh" textLength="88.4" lengthAdjust="spacingAndGlyphs">F: Harmonic Response-AFL-I</text>
<text x="998" y="23.97" class="sm" textLength="53.49" lengthAdjust="spacingAndGlyphs">Total Deformation</text>
<text x="998" y="32.44" class="sm" textLength="71.97" lengthAdjust="spacingAndGlyphs">Type: Total Deformation</text>
<text x="998" y="40.91" class="sm" textLength="55.03" lengthAdjust="spacingAndGlyphs">Frequency: 30. Hz</text>
<text x="998" y="49.38" class="sm" textLength="64.97" lengthAdjust="spacingAndGlyphs">Sweeping Phase: 0. &#176;</text>
<text x="998" y="57.85" class="sm" textLength="21.62" lengthAdjust="spacingAndGlyphs">Unit: m</text>
<text x="998" y="66.32" class="sm" textLength="45.79" lengthAdjust="spacingAndGlyphs">Max: 0.0055134</text>
<text x="998" y="74.79" class="sm" textLength="18.24" lengthAdjust="spacingAndGlyphs">Min: 0</text>
<rect x="998" y="90" width="8.9" height="9.5" fill="#e60000" stroke="#303030" stroke-width="0.5"/>
<rect x="998" y="99.5" width="8.9" height="9.5" fill="#f5a500" stroke="#303030" stroke-width="0.5"/>
<rect x="998" y="109" width="8.9" height="9.5" fill="#f5ec00" stroke="#303030" stroke-width="0.5"/>
<rect x="998" y="118.5" width="8.9" height="9.5" fill="#b2e600" stroke="#303030" stroke-width="0.5"/>
<rect x="998" y="128" width="8.9" height="9.5" fill="#14d214" stroke="#303030" stroke-width="0.5"/>
<rect x="998" y="137.5" width="8.9" height="9.5" fill="#00e6b4" stroke="#303030" stroke-width="0.5"/>
<rect x="998" y="147" width="8.9" height="9.5" fill="#00ecf0" stroke="#303030" stroke-width="0.5"/>
<rect x="998" y="156.5" width="8.9" height="9.5" fill="#14aaf0" stroke="#303030" stroke-width="0.5"/>
<rect x="998" y="166" width="8.9" height="9.5" fill="#0000f0" stroke="#303030" stroke-width="0.5"/>
<text x="1012" y="91.5" class="sm" textLength="28.16" lengthAdjust="spacingAndGlyphs">0.0055134</text>
<text x="1012" y="101" class="sm" textLength="28.16" lengthAdjust="spacingAndGlyphs">0.0049008</text>
<text x="1012" y="110.5" class="sm" textLength="28.16" lengthAdjust="spacingAndGlyphs">0.0042882</text>
<text x="1012" y="120" class="sm" textLength="28.16" lengthAdjust="spacingAndGlyphs">0.0036756</text>
<text x="1012" y="129.5" class="sm" textLength="24.89" lengthAdjust="spacingAndGlyphs">0.003063</text>
<text x="1012" y="139" class="sm" textLength="28.16" lengthAdjust="spacingAndGlyphs">0.0024504</text>
<text x="1012" y="148.5" class="sm" textLength="28.16" lengthAdjust="spacingAndGlyphs">0.0018378</text>
<text x="1012" y="158" class="sm" textLength="28.16" lengthAdjust="spacingAndGlyphs">0.0012252</text>
<text x="1012" y="167.5" class="sm" textLength="28.16" lengthAdjust="spacingAndGlyphs">0.0006126</text>
<text x="1012" y="177" class="sm" textLength="3.28" lengthAdjust="spacingAndGlyphs">0</text>
<text x="1159" y="29.2" font-size="22" class="b">30 Hz (FE-With Point Mass)</text>
<text x="998" y="196.5" class="sh" textLength="88.4" lengthAdjust="spacingAndGlyphs">F: Harmonic Response-AFL-I</text>
<text x="998" y="205" class="sm" textLength="53.49" lengthAdjust="spacingAndGlyphs">Total Deformation</text>
<text x="998" y="213.5" class="sm" textLength="71.97" lengthAdjust="spacingAndGlyphs">Type: Total Deformation</text>
<text x="998" y="222" class="sm" textLength="58.45" lengthAdjust="spacingAndGlyphs">Frequency: 210. Hz</text>
<text x="998" y="230.5" class="sm" textLength="64.97" lengthAdjust="spacingAndGlyphs">Sweeping Phase: 0. &#176;</text>
<text x="998" y="239" class="sm" textLength="21.62" lengthAdjust="spacingAndGlyphs">Unit: m</text>
<text x="998" y="247.5" class="sm" textLength="45.79" lengthAdjust="spacingAndGlyphs">Max: 0.0026246</text>
<text x="998" y="256" class="sm" textLength="18.24" lengthAdjust="spacingAndGlyphs">Min: 0</text>
<rect x="998" y="271" width="8.9" height="9.44" fill="#e60000" stroke="#303030" stroke-width="0.5"/>
<rect x="998" y="280.44" width="8.9" height="9.44" fill="#f5a500" stroke="#303030" stroke-width="0.5"/>
<rect x="998" y="289.89" width="8.9" height="9.44" fill="#f5ec00" stroke="#303030" stroke-width="0.5"/>
<rect x="998" y="299.33" width="8.9" height="9.44" fill="#b2e600" stroke="#303030" stroke-width="0.5"/>
<rect x="998" y="308.78" width="8.9" height="9.44" fill="#14d214" stroke="#303030" stroke-width="0.5"/>
<rect x="998" y="318.22" width="8.9" height="9.44" fill="#00e6b4" stroke="#303030" stroke-width="0.5"/>
<rect x="998" y="327.67" width="8.9" height="9.44" fill="#00ecf0" stroke="#303030" stroke-width="0.5"/>
<rect x="998" y="337.11" width="8.9" height="9.44" fill="#14aaf0" stroke="#303030" stroke-width="0.5"/>
<rect x="998" y="346.56" width="8.9" height="9.44" fill="#0000f0" stroke="#303030" stroke-width="0.5"/>
<text x="1012" y="272.5" class="sm" textLength="28.16" lengthAdjust="spacingAndGlyphs">0.0026246</text>
<text x="1012" y="281.94" class="sm" textLength="28.16" lengthAdjust="spacingAndGlyphs">0.0023329</text>
<text x="1012" y="291.39" class="sm" textLength="28.16" lengthAdjust="spacingAndGlyphs">0.0020413</text>
<text x="1012" y="300.83" class="sm" textLength="28.16" lengthAdjust="spacingAndGlyphs">0.0017497</text>
<text x="1012" y="310.28" class="sm" textLength="28.16" lengthAdjust="spacingAndGlyphs">0.0014581</text>
<text x="1012" y="319.72" class="sm" textLength="27.72" lengthAdjust="spacingAndGlyphs">0.0011665</text>
<text x="1012" y="329.17" class="sm" textLength="31.43" lengthAdjust="spacingAndGlyphs">0.00087486</text>
<text x="1012" y="338.61" class="sm" textLength="31.43" lengthAdjust="spacingAndGlyphs">0.00058324</text>
<text x="1012" y="348.06" class="sm" textLength="31.43" lengthAdjust="spacingAndGlyphs">0.00029162</text>
<text x="1012" y="357.5" class="sm" textLength="3.28" lengthAdjust="spacingAndGlyphs">0</text>
<text x="1166" y="211.8" font-size="22" class="b">210 Hz (FE-With Point Mass)</text>
<text x="999.8" y="375.8" class="sh" textLength="89.28" lengthAdjust="spacingAndGlyphs">F: Harmonic Response-AFL-I</text>
<text x="999.8" y="384.3" class="sm" textLength="54.02" lengthAdjust="spacingAndGlyphs">Total Deformation</text>
<text x="999.8" y="392.8" class="sm" textLength="72.69" lengthAdjust="spacingAndGlyphs">Type: Total Deformation</text>
<text x="999.8" y="401.3" class="sm" textLength="55.58" lengthAdjust="spacingAndGlyphs">Frequency: 40. Hz</text>
<text x="999.8" y="409.8" class="sm" textLength="65.62" lengthAdjust="spacingAndGlyphs">Sweeping Phase: 0. &#176;</text>
<text x="999.8" y="418.3" class="sm" textLength="21.83" lengthAdjust="spacingAndGlyphs">Unit: m</text>
<text x="999.8" y="426.8" class="sm" textLength="46.25" lengthAdjust="spacingAndGlyphs">Max: 0.0034957</text>
<text x="999.8" y="435.3" class="sm" textLength="18.42" lengthAdjust="spacingAndGlyphs">Min: 0</text>
<rect x="999.7" y="450.8" width="8.99" height="9.49" fill="#e60000" stroke="#303030" stroke-width="0.5"/>
<rect x="999.7" y="460.29" width="8.99" height="9.49" fill="#f5a500" stroke="#303030" stroke-width="0.5"/>
<rect x="999.7" y="469.78" width="8.99" height="9.49" fill="#f5ec00" stroke="#303030" stroke-width="0.5"/>
<rect x="999.7" y="479.27" width="8.99" height="9.49" fill="#b2e600" stroke="#303030" stroke-width="0.5"/>
<rect x="999.7" y="488.76" width="8.99" height="9.49" fill="#14d214" stroke="#303030" stroke-width="0.5"/>
<rect x="999.7" y="498.24" width="8.99" height="9.49" fill="#00e6b4" stroke="#303030" stroke-width="0.5"/>
<rect x="999.7" y="507.73" width="8.99" height="9.49" fill="#00ecf0" stroke="#303030" stroke-width="0.5"/>
<rect x="999.7" y="517.22" width="8.99" height="9.49" fill="#14aaf0" stroke="#303030" stroke-width="0.5"/>
<rect x="999.7" y="526.71" width="8.99" height="9.49" fill="#0000f0" stroke="#303030" stroke-width="0.5"/>
<text x="1013.6" y="452.3" class="sm" textLength="28.44" lengthAdjust="spacingAndGlyphs">0.0034957</text>
<text x="1013.6" y="461.79" class="sm" textLength="28.44" lengthAdjust="spacingAndGlyphs">0.0031073</text>
<text x="1013.6" y="471.28" class="sm" textLength="28.44" lengthAdjust="spacingAndGlyphs">0.0027189</text>
<text x="1013.6" y="480.77" class="sm" textLength="28.44" lengthAdjust="spacingAndGlyphs">0.0023304</text>
<text x="1013.6" y="490.26" class="sm" textLength="25.14" lengthAdjust="spacingAndGlyphs">0.001942</text>
<text x="1013.6" y="499.74" class="sm" textLength="28.44" lengthAdjust="spacingAndGlyphs">0.0015536</text>
<text x="1013.6" y="509.23" class="sm" textLength="28" lengthAdjust="spacingAndGlyphs">0.0011652</text>
<text x="1013.6" y="518.72" class="sm" textLength="31.74" lengthAdjust="spacingAndGlyphs">0.00077682</text>
<text x="1013.6" y="528.21" class="sm" textLength="31.74" lengthAdjust="spacingAndGlyphs">0.00038841</text>
<text x="1013.6" y="537.7" class="sm" textLength="3.31" lengthAdjust="spacingAndGlyphs">0</text>
<text x="1166" y="393.2" font-size="22" class="b">35 Hz (FE-Without Point Mass)</text>
<text x="995.6" y="550.3" class="sh" textLength="91.49" lengthAdjust="spacingAndGlyphs">F: Harmonic Response-AFL-I</text>
<text x="995.6" y="559.06" class="sm" textLength="55.36" lengthAdjust="spacingAndGlyphs">Total Deformation</text>
<text x="995.6" y="567.82" class="sm" textLength="74.49" lengthAdjust="spacingAndGlyphs">Type: Total Deformation</text>
<text x="995.6" y="576.58" class="sm" textLength="60.49" lengthAdjust="spacingAndGlyphs">Frequency: 230. Hz</text>
<text x="995.6" y="585.34" class="sm" textLength="67.25" lengthAdjust="spacingAndGlyphs">Sweeping Phase: 0. &#176;</text>
<text x="995.6" y="594.1" class="sm" textLength="22.37" lengthAdjust="spacingAndGlyphs">Unit: m</text>
<text x="995.6" y="602.86" class="sm" textLength="43.9" lengthAdjust="spacingAndGlyphs">Max: 0.029098</text>
<text x="995.6" y="611.62" class="sm" textLength="18.87" lengthAdjust="spacingAndGlyphs">Min: 0</text>
<rect x="995.8" y="627.8" width="9.21" height="9.78" fill="#e60000" stroke="#303030" stroke-width="0.5"/>
<rect x="995.8" y="637.58" width="9.21" height="9.78" fill="#f5a500" stroke="#303030" stroke-width="0.5"/>
<rect x="995.8" y="647.36" width="9.21" height="9.78" fill="#f5ec00" stroke="#303030" stroke-width="0.5"/>
<rect x="995.8" y="657.13" width="9.21" height="9.78" fill="#b2e600" stroke="#303030" stroke-width="0.5"/>
<rect x="995.8" y="666.91" width="9.21" height="9.78" fill="#14d214" stroke="#303030" stroke-width="0.5"/>
<rect x="995.8" y="676.69" width="9.21" height="9.78" fill="#00e6b4" stroke="#303030" stroke-width="0.5"/>
<rect x="995.8" y="686.47" width="9.21" height="9.78" fill="#00ecf0" stroke="#303030" stroke-width="0.5"/>
<rect x="995.8" y="696.24" width="9.21" height="9.78" fill="#14aaf0" stroke="#303030" stroke-width="0.5"/>
<rect x="995.8" y="706.02" width="9.21" height="9.78" fill="#0000f0" stroke="#303030" stroke-width="0.5"/>
<text x="1009.9" y="629.3" class="sm" textLength="25.76" lengthAdjust="spacingAndGlyphs">0.029098</text>
<text x="1009.9" y="639.08" class="sm" textLength="25.76" lengthAdjust="spacingAndGlyphs">0.025865</text>
<text x="1009.9" y="648.86" class="sm" textLength="25.76" lengthAdjust="spacingAndGlyphs">0.022632</text>
<text x="1009.9" y="658.63" class="sm" textLength="25.76" lengthAdjust="spacingAndGlyphs">0.019399</text>
<text x="1009.9" y="668.41" class="sm" textLength="25.76" lengthAdjust="spacingAndGlyphs">0.016166</text>
<text x="1009.9" y="678.19" class="sm" textLength="25.76" lengthAdjust="spacingAndGlyphs">0.012933</text>
<text x="1009.9" y="687.97" class="sm" textLength="29.15" lengthAdjust="spacingAndGlyphs">0.0096995</text>
<text x="1009.9" y="697.74" class="sm" textLength="29.15" lengthAdjust="spacingAndGlyphs">0.0064663</text>
<text x="1009.9" y="707.52" class="sm" textLength="29.15" lengthAdjust="spacingAndGlyphs">0.0032332</text>
<text x="1009.9" y="717.3" class="sm" textLength="3.39" lengthAdjust="spacingAndGlyphs">0</text>
<text x="1166" y="568.2" font-size="22" class="b">230 Hz (FE-Without Point Mass)</text>
<path d="M1115 72.7 H1503" stroke="#dedede" stroke-width="3.8"/>
<path d="M1115 93.2 L1117.75 92.97 L1120.5 92.75 L1123.25 92.52 L1126 92.3 L1128.75 92.08 L1131.5 91.86 L1134.25 91.65 L1137 91.43 L1139.75 91.22 L1142.5 91.01 L1145.25 90.8 L1148 90.6" fill="none" stroke="#b8000a" stroke-width="4.2"/>
<path d="M1148 90.6 L1150.75 90.4 L1153.5 90.2 L1156.25 90.01 L1159 89.81 L1161.75 89.62 L1164.5 89.43 L1167.25 89.25 L1170 89.06 L1172.75 88.87 L1175.5 88.68 L1178.25 88.49 L1181 88.3" fill="none" stroke="#c27e00" stroke-width="4.2"/>
<path d="M1181 88.3 L1183.83 88.1 L1186.67 87.9 L1189.5 87.7 L1192.33 87.5 L1195.17 87.3 L1198 87.09 L1200.83 86.89 L1203.67 86.69 L1206.5 86.48 L1209.33 86.28 L1212.17 86.07 L1215 85.87" fill="none" stroke="#b4b000" stroke-width="4.2"/>
<path d="M1215 85.87 L1217.83 85.67 L1220.67 85.47 L1223.5 85.26 L1226.33 85.06 L1229.17 84.86 L1232 84.66 L1234.83 84.47 L1237.67 84.27 L1240.5 84.07 L1243.33 83.88 L1246.17 83.69 L1249 83.5" fill="none" stroke="#86b000" stroke-width="4.2"/>
<path d="M1249 83.5 L1251.85 83.31 L1254.69 83.12 L1257.54 82.93 L1260.38 82.73 L1263.23 82.54 L1266.08 82.35 L1268.92 82.16 L1271.77 81.96 L1274.62 81.77 L1277.46 81.58 L1280.31 81.39 L1283.15 81.2 L1286 81.01" fill="none" stroke="#06aa06" stroke-width="4.2"/>
<path d="M1286 81.01 L1288.92 80.82 L1291.85 80.63 L1294.77 80.44 L1297.69 80.26 L1300.62 80.07 L1303.54 79.89 L1306.46 79.72 L1309.38 79.54 L1312.31 79.37 L1315.23 79.2 L1318.15 79.03 L1321.08 78.87 L1324 78.71" fill="none" stroke="#00aa8c" stroke-width="4.2"/>
<path d="M1324 78.71 L1326.8 78.56 L1329.6 78.42 L1332.4 78.28 L1335.2 78.14 L1338 78 L1340.8 77.87 L1343.6 77.74 L1346.4 77.6 L1349.2 77.47 L1352 77.35 L1354.8 77.22 L1357.6 77.09 L1360.4 76.97 L1363.2 76.85 L1366 76.73" fill="none" stroke="#00a2b2" stroke-width="4.2"/>
<path d="M1366 76.73 L1368.83 76.61 L1371.67 76.49 L1374.5 76.37 L1377.33 76.26 L1380.17 76.14 L1383 76.03 L1385.83 75.92 L1388.67 75.8 L1391.5 75.7 L1394.33 75.59 L1397.17 75.48 L1400 75.38 L1402.83 75.27 L1405.67 75.17 L1408.5 75.07 L1411.33 74.96 L1414.17 74.86 L1417 74.77" fill="none" stroke="#0a78b4" stroke-width="4.2"/>
<path d="M1417 74.77 L1419.98 74.66 L1422.97 74.56 L1425.95 74.46 L1428.93 74.36 L1431.91 74.26 L1434.9 74.16 L1437.88 74.06 L1440.86 73.96 L1443.84 73.87 L1446.83 73.77 L1449.81 73.68 L1452.79 73.59 L1455.78 73.49 L1458.76 73.4 L1461.74 73.31 L1464.72 73.22 L1467.71 73.14 L1470.69 73.05 L1473.67 72.97 L1476.66 72.88 L1479.64 72.8 L1482.62 72.72 L1485.6 72.64 L1488.59 72.56 L1491.57 72.48 L1494.55 72.41 L1497.53 72.33 L1500.52 72.26 L1503.5 72.19" fill="none" stroke="#1414a0" stroke-width="4.2"/>
<path d="M1090.2 89.4 H1109.9 L1114.4 94.4 L1109.9 99.4 H1090.2 Z" fill="#ea1119" stroke="#9a0000" stroke-width="0.6" stroke-linejoin="round"/>
<text x="1092.8" y="96.8" class="tg" textLength="12.58" lengthAdjust="spacingAndGlyphs">Max</text>
<circle cx="1115.2" cy="95.6" r="1.3" fill="#f4f4f4" stroke="#222" stroke-width="0.75"/>
<path d="M1503.2 68.9 H1521 L1525.5 73.9 L1521 78.9 H1503.2 Z" fill="#1212e6" stroke="#00007a" stroke-width="0.6" stroke-linejoin="round"/>
<text x="1505.8" y="76.3" class="tg" textLength="11.6" lengthAdjust="spacingAndGlyphs">Min</text>
<circle cx="1526.3" cy="75.1" r="1.3" fill="#f4f4f4" stroke="#222" stroke-width="0.75"/>
<path d="M1115 253.1 H1503" stroke="#dedede" stroke-width="3.8"/>
<path d="M1115 272.9 L1117.85 272.08 L1120.7 271.26" fill="none" stroke="#b8000a" stroke-width="4.2"/>
<path d="M1120.7 271.26 L1123.35 270.5 L1126 269.74 L1128.65 268.97 L1131.3 268.21" fill="none" stroke="#c27e00" stroke-width="4.2"/>
<path d="M1131.3 268.21 L1134.15 267.38 L1137 266.55" fill="none" stroke="#b4b000" stroke-width="4.2"/>
<path d="M1137 266.55 L1139.13 265.93 L1141.27 265.31 L1143.4 264.68" fill="none" stroke="#86b000" stroke-width="4.2"/>
<path d="M1143.4 264.68 L1146.1 263.88 L1148.8 263.07 L1151.5 262.25 L1154.2 261.42 L1156.9 260.59" fill="none" stroke="#06aa06" stroke-width="4.2"/>
<path d="M1156.9 260.59 L1159.46 259.81 L1162.02 259.03 L1164.58 258.26 L1167.14 257.5 L1169.7 256.76" fill="none" stroke="#00aa8c" stroke-width="4.2"/>
<path d="M1169.7 256.76 L1172.07 256.09 L1174.43 255.43 L1176.8 254.8" fill="none" stroke="#0a78b4" stroke-width="4.2"/>
<path d="M1176.8 254.8 L1179.42 254.12 L1182.03 253.45 L1184.65 252.8 L1187.27 252.15 L1189.88 251.52 L1192.5 250.9" fill="none" stroke="#1414a0" stroke-width="4.2"/>
<path d="M1192.5 250.9 L1195.34 250.24 L1198.18 249.59 L1201.02 248.95 L1203.86 248.32 L1206.7 247.7" fill="none" stroke="#0a78b4" stroke-width="4.2"/>
<path d="M1206.7 247.7 L1209.53 247.09 L1212.35 246.5 L1215.17 245.92 L1218 245.35" fill="none" stroke="#00a2b2" stroke-width="4.2"/>
<path d="M1218 245.35 L1220.58 244.83 L1223.16 244.32 L1225.74 243.82 L1228.32 243.32 L1230.9 242.82" fill="none" stroke="#06aa06" stroke-width="4.2"/>
<path d="M1230.9 242.82 L1233.52 242.31 L1236.14 241.81 L1238.76 241.31 L1241.38 240.81 L1244 240.32" fill="none" stroke="#86b000" stroke-width="4.2"/>
<path d="M1244 240.32 L1246.78 239.8 L1249.56 239.29 L1252.34 238.79 L1255.12 238.3 L1257.9 237.82" fill="none" stroke="#b4b000" stroke-width="4.2"/>
<path d="M1257.9 237.82 L1260.54 237.35 L1263.19 236.88 L1265.83 236.41 L1268.47 235.96 L1271.11 235.54 L1273.76 235.17 L1276.4 234.86" fill="none" stroke="#c27e00" stroke-width="4.2"/>
<path d="M1276.4 234.86 L1279.33 234.55 L1282.26 234.27 L1285.19 234.02 L1288.12 233.78 L1291.05 233.58 L1293.97 233.4 L1296.9 233.26 L1299.83 233.12 L1302.76 232.98 L1305.69 232.86 L1308.62 232.75 L1311.55 232.67 L1314.48 232.62 L1317.41 232.6 L1320.34 232.62 L1323.26 232.66 L1326.19 232.73 L1329.12 232.81 L1332.05 232.91 L1334.98 233.01 L1337.91 233.12 L1340.84 233.23 L1343.77 233.35 L1346.7 233.5 L1349.63 233.66 L1352.55 233.84 L1355.48 234.03 L1358.41 234.23 L1361.34 234.45 L1364.27 234.68 L1367.2 234.92" fill="none" stroke="#b8000a" stroke-width="4.2"/>
<path d="M1367.2 234.92 L1370.07 235.17 L1372.94 235.45 L1375.81 235.76 L1378.69 236.09 L1381.56 236.44 L1384.43 236.81 L1387.3 237.19" fill="none" stroke="#c27e00" stroke-width="4.2"/>
<path d="M1387.3 237.19 L1390.24 237.6 L1393.18 238.01 L1396.12 238.44 L1399.06 238.87 L1402 239.31" fill="none" stroke="#b4b000" stroke-width="4.2"/>
<path d="M1402 239.31 L1404.75 239.71 L1407.5 240.12 L1410.25 240.52 L1413 240.91 L1415.75 241.29 L1418.5 241.67" fill="none" stroke="#86b000" stroke-width="4.2"/>
<path d="M1418.5 241.67 L1421.29 242.05 L1424.08 242.44 L1426.86 242.83 L1429.65 243.23 L1432.44 243.63 L1435.22 244.03 L1438.01 244.44 L1440.8 244.84" fill="none" stroke="#06aa06" stroke-width="4.2"/>
<path d="M1440.8 244.84 L1443.6 245.24 L1446.4 245.64 L1449.2 246.03 L1452 246.42 L1454.8 246.8 L1457.6 247.16 L1460.4 247.52 L1463.2 247.87 L1466 248.2" fill="none" stroke="#00aa8c" stroke-width="4.2"/>
<path d="M1466 248.2 L1468.67 248.51 L1471.34 248.81 L1474.01 249.11 L1476.69 249.4 L1479.36 249.68 L1482.03 249.96 L1484.7 250.24" fill="none" stroke="#0a78b4" stroke-width="4.2"/>
<path d="M1484.7 250.24 L1487.39 250.51 L1490.07 250.77 L1492.76 251.03 L1495.44 251.28 L1498.13 251.53 L1500.81 251.77 L1503.5 252" fill="none" stroke="#1414a0" stroke-width="4.2"/>
<path d="M1295 228.8 H1314.5 L1319 233.7 L1314.5 238.6 H1295 Z" fill="#ea1119" stroke="#9a0000" stroke-width="0.6" stroke-linejoin="round"/>
<text x="1297.6" y="236.1" class="tg" textLength="12.48" lengthAdjust="spacingAndGlyphs">Max</text>
<circle cx="1319.8" cy="234.9" r="1.3" fill="#f4f4f4" stroke="#222" stroke-width="0.75"/>
<path d="M1503.3 249.7 H1521.1 L1525.6 254.55 L1521.1 259.4 H1503.3 Z" fill="#1212e6" stroke="#00007a" stroke-width="0.6" stroke-linejoin="round"/>
<text x="1505.9" y="256.95" class="tg" textLength="11.6" lengthAdjust="spacingAndGlyphs">Min</text>
<circle cx="1526.4" cy="255.75" r="1.3" fill="#f4f4f4" stroke="#222" stroke-width="0.75"/>
<path d="M1119.6 449.4 H1510" stroke="#dedede" stroke-width="3.8"/>
<path d="M1119.6 429 L1122.53 429.18 L1125.45 429.35 L1128.38 429.53 L1131.31 429.71 L1134.24 429.89 L1137.16 430.07 L1140.09 430.25 L1143.02 430.44 L1145.95 430.62 L1148.87 430.81 L1151.8 431" fill="none" stroke="#b8000a" stroke-width="4.2"/>
<path d="M1151.8 431 L1154.77 431.19 L1157.75 431.39 L1160.72 431.58 L1163.69 431.78 L1166.66 431.98 L1169.64 432.18 L1172.61 432.38 L1175.58 432.58 L1178.55 432.79 L1181.53 432.99 L1184.5 433.2" fill="none" stroke="#c27e00" stroke-width="4.2"/>
<path d="M1184.5 433.2 L1187.4 433.4 L1190.3 433.61 L1193.2 433.82 L1196.1 434.03 L1199 434.24 L1201.9 434.45 L1204.8 434.66 L1207.7 434.87 L1210.6 435.08 L1213.5 435.29 L1216.4 435.5" fill="none" stroke="#b4b000" stroke-width="4.2"/>
<path d="M1216.4 435.5 L1219.36 435.71 L1222.33 435.93 L1225.29 436.14 L1228.25 436.36 L1231.22 436.58 L1234.18 436.79 L1237.15 437 L1240.11 437.21 L1243.07 437.41 L1246.04 437.61 L1249 437.8" fill="none" stroke="#86b000" stroke-width="4.2"/>
<path d="M1249 437.8 L1251.92 437.98 L1254.83 438.16 L1257.75 438.33 L1260.67 438.49 L1263.58 438.66 L1266.5 438.82 L1269.42 438.98 L1272.33 439.14 L1275.25 439.3 L1278.17 439.46 L1281.08 439.63 L1284 439.8" fill="none" stroke="#06aa06" stroke-width="4.2"/>
<path d="M1284 439.8 L1286.78 439.96 L1289.57 440.13 L1292.35 440.29 L1295.14 440.46 L1297.92 440.62 L1300.71 440.79 L1303.49 440.96 L1306.28 441.13 L1309.06 441.3 L1311.85 441.47 L1314.63 441.64 L1317.42 441.82 L1320.2 442" fill="none" stroke="#00aa8c" stroke-width="4.2"/>
<path d="M1320.2 442 L1323.19 442.2 L1326.17 442.41 L1329.16 442.62 L1332.14 442.84 L1335.13 443.06 L1338.11 443.29 L1341.1 443.51 L1344.09 443.74 L1347.07 443.95 L1350.06 444.16 L1353.04 444.37 L1356.03 444.56 L1359.01 444.74 L1362 444.9" fill="none" stroke="#00a2b2" stroke-width="4.2"/>
<path d="M1362 444.9 L1364.97 445.05 L1367.94 445.2 L1370.91 445.35 L1373.88 445.49 L1376.85 445.63 L1379.82 445.76 L1382.79 445.89 L1385.76 446.02 L1388.74 446.14 L1391.71 446.26 L1394.68 446.38 L1397.65 446.49 L1400.62 446.6 L1403.59 446.7 L1406.56 446.81 L1409.53 446.9 L1412.5 447" fill="none" stroke="#0a78b4" stroke-width="4.2"/>
<path d="M1412.5 447 L1415.47 447.09 L1418.43 447.19 L1421.4 447.28 L1424.37 447.37 L1427.33 447.46 L1430.3 447.55 L1433.27 447.64 L1436.23 447.73 L1439.2 447.82 L1442.17 447.9 L1445.13 447.99 L1448.1 448.07 L1451.07 448.15 L1454.03 448.23 L1457 448.31 L1459.97 448.39 L1462.93 448.46 L1465.9 448.54 L1468.87 448.61 L1471.83 448.68 L1474.8 448.75 L1477.77 448.82 L1480.73 448.88 L1483.7 448.94 L1486.67 449 L1489.63 449.06 L1492.6 449.12 L1495.57 449.17 L1498.53 449.22 L1501.5 449.27 L1504.47 449.32 L1507.43 449.36 L1510.4 449.4" fill="none" stroke="#1414a0" stroke-width="4.2"/>
<path d="M1094.4 424.9 H1113.2 L1117.7 429.8 L1113.2 434.7 H1094.4 Z" fill="#ea1119" stroke="#9a0000" stroke-width="0.6" stroke-linejoin="round"/>
<text x="1097" y="432.2" class="tg" textLength="12.12" lengthAdjust="spacingAndGlyphs">Max</text>
<circle cx="1118.5" cy="431" r="1.3" fill="#f4f4f4" stroke="#222" stroke-width="0.75"/>
<path d="M1510.2 446 H1527.5 L1532 450.85 L1527.5 455.7 H1510.2 Z" fill="#1212e6" stroke="#00007a" stroke-width="0.6" stroke-linejoin="round"/>
<text x="1512.8" y="453.25" class="tg" textLength="11.34" lengthAdjust="spacingAndGlyphs">Min</text>
<circle cx="1532.8" cy="452.05" r="1.3" fill="#f4f4f4" stroke="#222" stroke-width="0.75"/>
<path d="M1118.3 626.6 H1519.6" stroke="#dedede" stroke-width="3.8"/>
<path d="M1117.5 647.5 L1120.08 646.92 L1122.65 646.33 L1125.22 645.73 L1127.8 645.1" fill="none" stroke="#b8000a" stroke-width="4.2"/>
<path d="M1127.8 645.1 L1130.17 644.5 L1132.55 643.88 L1134.92 643.24 L1137.3 642.59" fill="none" stroke="#c27e00" stroke-width="4.2"/>
<path d="M1137.3 642.59 L1140.08 641.83 L1142.85 641.07 L1145.62 640.32 L1148.4 639.6" fill="none" stroke="#b4b000" stroke-width="4.2"/>
<path d="M1148.4 639.6 L1151.27 638.87 L1154.13 638.13 L1157 637.4" fill="none" stroke="#86b000" stroke-width="4.2"/>
<path d="M1157 637.4 L1159.4 636.8 L1161.8 636.22 L1164.2 635.65 L1166.6 635.11 L1169 634.6" fill="none" stroke="#06aa06" stroke-width="4.2"/>
<path d="M1169 634.6 L1171.71 634.07 L1174.43 633.57 L1177.14 633.1 L1179.86 632.64 L1182.57 632.18 L1185.29 631.71 L1188 631.2" fill="none" stroke="#00aa8c" stroke-width="4.2"/>
<path d="M1188 631.2 L1190.75 630.65 L1193.5 630.07 L1196.25 629.48 L1199 628.9" fill="none" stroke="#0a78b4" stroke-width="4.2"/>
<path d="M1199 628.9 L1201.67 628.34 L1204.35 627.79 L1207.03 627.24 L1209.7 626.68 L1212.38 626.13 L1215.05 625.59 L1217.73 625.04 L1220.4 624.5" fill="none" stroke="#1414a0" stroke-width="4.2"/>
<path d="M1220.4 624.5 L1222.92 623.99 L1225.44 623.49 L1227.96 622.98 L1230.48 622.49 L1233 622" fill="none" stroke="#0a78b4" stroke-width="4.2"/>
<path d="M1233 622 L1235.8 621.46 L1238.6 620.92 L1241.4 620.37 L1244.2 619.83 L1247 619.29" fill="none" stroke="#00a2b2" stroke-width="4.2"/>
<path d="M1247 619.29 L1249.76 618.78 L1252.52 618.28 L1255.28 617.79 L1258.04 617.33 L1260.8 616.9" fill="none" stroke="#00aa8c" stroke-width="4.2"/>
<path d="M1260.8 616.9 L1263.51 616.49 L1266.23 616.1 L1268.94 615.72 L1271.66 615.36 L1274.37 615.01 L1277.09 614.69 L1279.8 614.4" fill="none" stroke="#06aa06" stroke-width="4.2"/>
<path d="M1279.8 614.4 L1282.6 614.12 L1285.4 613.84 L1288.2 613.58 L1291 613.34 L1293.8 613.1 L1296.6 612.88 L1299.4 612.67 L1302.2 612.48 L1305 612.3" fill="none" stroke="#86b000" stroke-width="4.2"/>
<path d="M1305 612.3 L1308 612.11 L1310.99 611.92 L1313.99 611.73 L1316.98 611.54 L1319.98 611.36 L1322.98 611.2 L1325.97 611.06 L1328.97 610.94 L1331.96 610.86 L1334.96 610.81 L1337.96 610.8 L1340.95 610.81 L1343.95 610.84 L1346.94 610.89 L1349.94 610.94 L1352.94 611.01 L1355.93 611.09 L1358.93 611.18 L1361.92 611.28 L1364.92 611.39 L1367.92 611.5 L1370.91 611.62 L1373.91 611.74 L1376.9 611.87 L1379.9 612" fill="none" stroke="#b4b000" stroke-width="4.2"/>
<path d="M1379.9 612 L1382.78 612.14 L1385.66 612.31 L1388.54 612.52 L1391.42 612.75 L1394.3 613 L1397.18 613.27 L1400.06 613.55 L1402.94 613.83 L1405.82 614.12 L1408.7 614.4" fill="none" stroke="#86b000" stroke-width="4.2"/>
<path d="M1408.7 614.4 L1411.55 614.69 L1414.4 614.99 L1417.25 615.32 L1420.1 615.65 L1422.95 615.99 L1425.8 616.33 L1428.65 616.67 L1431.5 617" fill="none" stroke="#06aa06" stroke-width="4.2"/>
<path d="M1431.5 617 L1434.43 617.34 L1437.36 617.68 L1440.29 618.03 L1443.21 618.38 L1446.14 618.74 L1449.07 619.09 L1452 619.44" fill="none" stroke="#00aa8c" stroke-width="4.2"/>
<path d="M1452 619.44 L1454.71 619.76 L1457.43 620.08 L1460.14 620.4 L1462.86 620.71 L1465.57 621.01 L1468.29 621.31 L1471 621.6" fill="none" stroke="#00a2b2" stroke-width="4.2"/>
<path d="M1471 621.6 L1473.95 621.91 L1476.9 622.21 L1479.85 622.5 L1482.8 622.79 L1485.75 623.07 L1488.7 623.35 L1491.65 623.63 L1494.6 623.9" fill="none" stroke="#0a78b4" stroke-width="4.2"/>
<path d="M1494.6 623.9 L1497.4 624.16 L1500.2 624.41 L1503 624.66 L1505.8 624.91 L1508.6 625.15 L1511.4 625.4 L1514.2 625.63 L1517 625.87 L1519.8 626.1" fill="none" stroke="#1414a0" stroke-width="4.2"/>
<path d="M1092.1 644.3 H1112.2 L1116.7 649.25 L1112.2 654.2 H1092.1 Z" fill="#ea1119" stroke="#9a0000" stroke-width="0.6" stroke-linejoin="round"/>
<text x="1094.7" y="651.65" class="tg" textLength="12.79" lengthAdjust="spacingAndGlyphs">Max</text>
<circle cx="1117.5" cy="650.45" r="1.3" fill="#f4f4f4" stroke="#222" stroke-width="0.75"/>
<path d="M1519.6 622.8 H1536.4 L1540.9 627.75 L1536.4 632.7 H1519.6 Z" fill="#1212e6" stroke="#00007a" stroke-width="0.6" stroke-linejoin="round"/>
<text x="1522.2" y="630.15" class="tg" textLength="11.08" lengthAdjust="spacingAndGlyphs">Min</text>
<circle cx="1541.7" cy="628.95" r="1.3" fill="#f4f4f4" stroke="#222" stroke-width="0.75"/>
</svg></body></html>
